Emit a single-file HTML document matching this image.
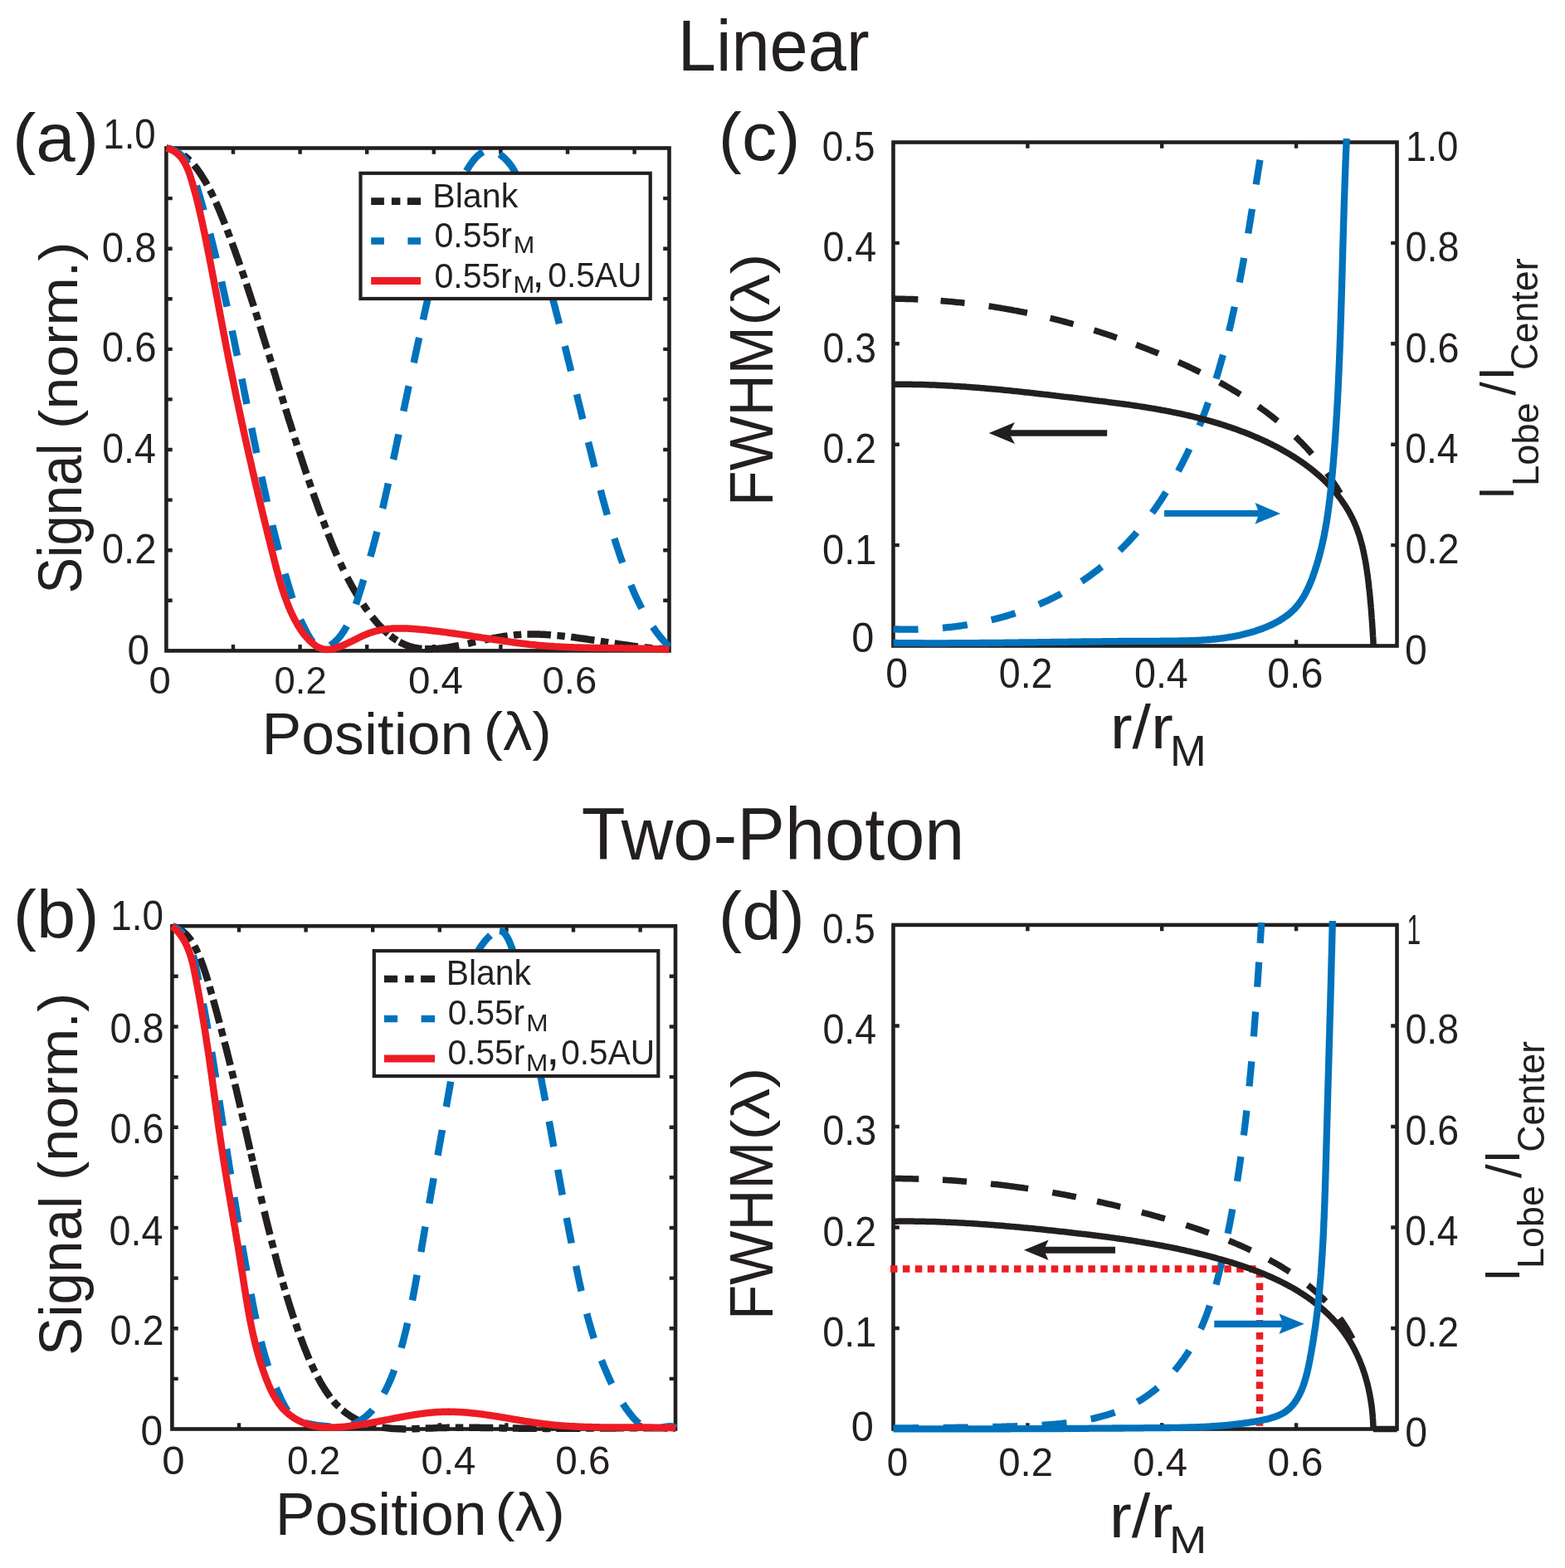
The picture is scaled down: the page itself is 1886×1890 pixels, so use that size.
<!DOCTYPE html>
<html><head><meta charset="utf-8"><title>Figure</title>
<style>html,body{margin:0;padding:0;background:#fff}svg{display:block}text{font-family:"Liberation Sans", "DejaVu Sans", sans-serif}</style></head>
<body><svg width="1886" height="1890" viewBox="0 0 1886 1890">
<rect width="1886" height="1890" fill="#fff"/>
<defs><clipPath id="ca"><rect x="195.4" y="173.5" width="616.1" height="615.9"/></clipPath><clipPath id="cb"><rect x="202.4" y="1111.2" width="616.6" height="616.3"/></clipPath><clipPath id="cc"><rect x="1071.5" y="166.5" width="617.0" height="617.0"/></clipPath><clipPath id="cd"><rect x="1071.5" y="1109.9" width="617.0" height="617.6"/></clipPath></defs>
<rect x="200.4" y="178.5" width="606.1" height="605.9" fill="none" stroke="#231F20" stroke-width="4.6"/>
<path d="M281.0,784.4V777.1M281.0,178.5V185.8M361.6,784.4V777.1M361.6,178.5V185.8M442.2,784.4V777.1M442.2,178.5V185.8M522.8,784.4V777.1M522.8,178.5V185.8M603.4,784.4V777.1M603.4,178.5V185.8M684.0,784.4V777.1M684.0,178.5V185.8M764.6,784.4V777.1M764.6,178.5V185.8M200.4,723.8H207.7M806.5,723.8H799.2M200.4,663.2H207.7M806.5,663.2H799.2M200.4,602.6H207.7M806.5,602.6H799.2M200.4,542.0H207.7M806.5,542.0H799.2M200.4,481.4H207.7M806.5,481.4H799.2M200.4,420.9H207.7M806.5,420.9H799.2M200.4,360.3H207.7M806.5,360.3H799.2M200.4,299.7H207.7M806.5,299.7H799.2M200.4,239.1H207.7M806.5,239.1H799.2" stroke="#231F20" stroke-width="4.4" fill="none"/>
<rect x="207.4" y="1116.2" width="606.6" height="606.3" fill="none" stroke="#231F20" stroke-width="4.6"/>
<path d="M288.0,1722.5V1715.2M288.0,1116.2V1123.5M368.6,1722.5V1715.2M368.6,1116.2V1123.5M449.2,1722.5V1715.2M449.2,1116.2V1123.5M529.8,1722.5V1715.2M529.8,1116.2V1123.5M610.4,1722.5V1715.2M610.4,1116.2V1123.5M691.0,1722.5V1715.2M691.0,1116.2V1123.5M771.6,1722.5V1715.2M771.6,1116.2V1123.5M207.4,1661.9H214.7M814.0,1661.9H806.7M207.4,1601.2H214.7M814.0,1601.2H806.7M207.4,1540.6H214.7M814.0,1540.6H806.7M207.4,1480.0H214.7M814.0,1480.0H806.7M207.4,1419.3H214.7M814.0,1419.3H806.7M207.4,1358.7H214.7M814.0,1358.7H806.7M207.4,1298.1H214.7M814.0,1298.1H806.7M207.4,1237.5H214.7M814.0,1237.5H806.7M207.4,1176.8H214.7M814.0,1176.8H806.7" stroke="#231F20" stroke-width="4.4" fill="none"/>
<rect x="1076.5" y="171.5" width="607.0" height="607.0" fill="none" stroke="#231F20" stroke-width="4.6"/>
<path d="M1238.4,778.5V771.2M1238.4,171.5V178.8M1400.2,778.5V771.2M1400.2,171.5V178.8M1562.1,778.5V771.2M1562.1,171.5V178.8M1076.5,657.1H1083.8M1683.5,657.1H1676.2M1076.5,535.7H1083.8M1683.5,535.7H1676.2M1076.5,414.3H1083.8M1683.5,414.3H1676.2M1076.5,292.9H1083.8M1683.5,292.9H1676.2" stroke="#231F20" stroke-width="4.4" fill="none"/>
<rect x="1076.5" y="1114.9" width="607.0" height="607.6" fill="none" stroke="#231F20" stroke-width="4.6"/>
<path d="M1238.4,1722.5V1715.2M1238.4,1114.9V1122.2M1400.2,1722.5V1715.2M1400.2,1114.9V1122.2M1562.1,1722.5V1715.2M1562.1,1114.9V1122.2M1076.5,1601.0H1083.8M1683.5,1601.0H1676.2M1076.5,1479.5H1083.8M1683.5,1479.5H1676.2M1076.5,1358.0H1083.8M1683.5,1358.0H1676.2M1076.5,1236.5H1083.8M1683.5,1236.5H1676.2" stroke="#231F20" stroke-width="4.4" fill="none"/>
<g clip-path="url(#ca)">
<path d="M200.4,178.5 L202.5,178.9 L204.6,179.4 L206.7,180.0 L208.8,180.7 L210.8,181.5 L212.8,182.3 L214.8,183.3M233.9,199.1 L235.2,200.7 L236.4,202.3 L237.7,203.9 L238.9,205.6 L240.0,207.2 L241.2,208.9 L242.3,210.6 L243.4,212.3 L244.5,214.1 L245.6,215.8 L246.6,217.5 L247.7,219.3 L248.7,221.0 L249.7,222.8M260.1,243.9 L261.0,245.7 L261.8,247.6 L262.6,249.5 L263.4,251.3 L264.2,253.2 L265.0,255.1 L265.7,257.0 L266.5,258.9 L267.3,260.8 L268.0,262.6 L268.8,264.5 L269.5,266.4 L270.3,268.3 L271.0,270.2M279.6,292.7 L280.3,294.6 L281.0,296.6 L281.7,298.5 L282.4,300.4 L283.1,302.3 L283.7,304.2 L284.4,306.1 L285.1,308.0 L285.8,310.0 L286.5,311.9 L287.2,313.8 L287.8,315.7 L288.5,317.6 L289.2,319.6M296.9,342.2 L297.6,344.2 L298.2,346.1 L298.9,348.0 L299.5,350.0 L300.1,351.9 L300.8,353.8 L301.4,355.8 L302.0,357.7 L302.7,359.6 L303.3,361.6 L303.9,363.5 L304.5,365.4 L305.2,367.4 L305.8,369.3M313.3,393.0 L313.9,394.9 L314.5,396.8 L315.1,398.8 L315.7,400.7 L316.3,402.7 L316.9,404.6 L317.5,406.6 L318.1,408.5 L318.7,410.5 L319.3,412.4 L319.9,414.3 L320.5,416.3 L321.1,418.2 L321.8,420.2M329.0,443.6 L329.6,445.6 L330.2,447.5 L330.8,449.4 L331.4,451.4 L332.0,453.3 L332.5,455.3 L333.1,457.2 L333.7,459.2 L334.3,461.1 L334.9,463.1 L335.5,465.0 L336.1,467.0 L336.7,468.9 L337.3,470.8M344.2,493.0 L344.8,494.9 L345.4,496.9 L346.0,498.8 L346.6,500.8 L347.2,502.7 L347.8,504.7 L348.4,506.6 L349.1,508.5 L349.7,510.5 L350.3,512.4 L350.9,514.4 L351.5,516.3 L352.1,518.2 L352.7,520.2M360.4,544.2 L361.1,546.1 L361.7,548.0 L362.3,550.0 L363.0,551.9 L363.6,553.8 L364.2,555.8 L364.9,557.7 L365.5,559.6 L366.2,561.6 L366.8,563.5 L367.4,565.4 L368.1,567.4 L368.7,569.3 L369.4,571.2M377.4,594.5 L378.1,596.4 L378.7,598.3 L379.4,600.3 L380.1,602.2 L380.8,604.1 L381.5,606.0 L382.1,607.9 L382.8,609.8 L383.5,611.8 L384.2,613.7 L384.9,615.6 L385.6,617.5 L386.3,619.4 L387.0,621.3M395.3,643.3 L396.0,645.2 L396.8,647.0 L397.5,648.9 L398.3,650.8 L399.0,652.7 L399.8,654.6 L400.5,656.5 L401.3,658.4 L402.1,660.3 L402.9,662.1 L403.7,664.0 L404.5,665.9 L405.3,667.8 L406.1,669.6M418.5,696.1 L419.5,697.9 L420.4,699.7 L421.4,701.5 L422.4,703.3 L423.3,705.1 L424.3,706.8 L425.3,708.6 L426.3,710.4 L427.4,712.1 L428.4,713.9 L429.4,715.6 L430.5,717.4 L431.5,719.1 L432.6,720.8M448.4,743.5 L449.7,745.1 L451.0,746.6 L452.3,748.2 L453.6,749.8 L454.9,751.3 L456.3,752.8 L457.7,754.3 L459.0,755.8 L460.5,757.3 L461.9,758.7 L463.4,760.1 L464.9,761.5 L466.4,762.9 L467.9,764.2M481.4,773.7 L483.2,774.7 L485.0,775.6 L486.8,776.5 L488.7,777.3 L490.6,778.0 L492.5,778.7 L494.5,779.3 L496.4,779.9 L498.4,780.4 L500.4,780.8 L502.4,781.1 L504.4,781.5 L506.4,781.7 L508.4,781.9M525.0,782.0 L527.0,781.9 L529.0,781.7 L531.0,781.5 L533.1,781.3 L535.1,781.0 L537.1,780.7 L539.1,780.5 L541.1,780.1 L543.1,779.8 L545.1,779.5 L547.1,779.1 L549.1,778.7 L551.1,778.4 L553.1,778.0M583.8,771.4 L585.7,771.0 L587.7,770.6 L589.7,770.2 L591.7,769.8 L593.7,769.4 L595.7,769.0 L597.7,768.7 L599.7,768.3 L601.7,768.0 L603.7,767.6 L605.8,767.3 L607.8,767.0 L609.8,766.7 L611.8,766.4M635.4,764.5 L637.5,764.5 L639.5,764.5 L641.6,764.4 L643.6,764.5 L645.6,764.5 L647.7,764.5 L649.7,764.6 L651.7,764.7 L653.8,764.7 L655.8,764.8 L657.8,764.9 L659.9,765.1 L661.9,765.2 L663.9,765.4M688.2,767.8 L690.2,768.1 L692.3,768.3 L694.3,768.6 L696.3,768.9 L698.3,769.2 L700.3,769.4 L702.4,769.7 L704.4,770.0 L706.4,770.3 L708.4,770.6 L710.4,770.9 L712.4,771.2 L714.4,771.5 L716.4,771.8M740.6,775.5 L742.6,775.8 L744.6,776.1 L746.6,776.4 L748.6,776.7 L750.6,777.0 L752.7,777.3 L754.7,777.6 L756.7,777.8 L758.7,778.1 L760.7,778.4 L762.7,778.7 L764.8,778.9 L766.8,779.2 L768.8,779.4M793.7,781.8 L795.8,782.0 L798.0,782.1 L800.1,782.2 L802.2,782.3 L804.4,782.4 L806.5,782.5M221.4,187.3 L223.3,188.7 L225.1,190.2 L226.9,191.8 L228.6,193.4M253.0,229.0 L254.1,231.1 L255.1,233.2 L256.2,235.4 L257.2,237.5M273.7,277.0 L274.5,279.2 L275.3,281.5 L276.2,283.7 L277.0,285.9M291.6,326.4 L292.3,328.6 L293.1,330.9 L293.9,333.1 L294.6,335.4M308.1,376.6 L308.8,378.9 L309.6,381.1 L310.3,383.4 L311.0,385.7M324.0,427.3 L324.7,429.6 L325.4,431.9 L326.1,434.2 L326.8,436.4M339.4,477.4 L340.1,479.7 L340.8,481.9 L341.5,484.2 L342.2,486.5M355.1,527.7 L355.8,529.9 L356.6,532.2 L357.3,534.5 L358.0,536.7M371.8,578.4 L372.6,580.6 L373.4,582.9 L374.1,585.1 L374.9,587.4M389.4,627.9 L390.3,630.1 L391.1,632.3 L391.9,634.5 L392.8,636.7M410.1,678.6 L411.1,680.8 L412.1,683.0 L413.1,685.1 L414.1,687.2M437.6,728.4 L438.9,730.4 L440.2,732.4 L441.6,734.3 L443.0,736.2M470.6,766.4 L472.5,767.9 L474.4,769.3 L476.4,770.6 L478.4,771.9M511.9,782.2 L514.3,782.3 L516.7,782.3 L519.1,782.3 L521.4,782.2M563.8,775.8 L566.1,775.3 L568.5,774.7 L570.8,774.2 L573.1,773.7M618.9,765.6 L621.2,765.3 L623.6,765.1 L626.0,765.0 L628.3,764.8M671.4,766.0 L673.7,766.2 L676.1,766.4 L678.5,766.7 L680.8,767.0M723.8,772.9 L726.2,773.3 L728.5,773.7 L730.9,774.0 L733.2,774.4M776.5,780.3 L778.9,780.6 L781.2,780.8 L783.6,781.0 L786.0,781.2" fill="none" stroke="#231F20" stroke-width="8.5" stroke-linejoin="round"/>
<path d="M202.7,179.0 L204.7,179.5 L206.7,180.1 L208.6,180.8 L210.5,181.7 L212.3,182.6 L214.1,183.7 L215.8,184.9 L217.4,186.2 L219.0,187.5 L220.4,189.0 L221.8,190.5 L223.1,192.1 L224.3,193.8 L225.5,195.5 L226.5,197.3M236.9,223.8 L237.5,225.7 L238.1,227.7 L238.7,229.7 L239.2,231.7 L239.8,233.7 L240.4,235.7 L241.0,237.6 L241.6,239.6 L242.1,241.6 L242.7,243.6 L243.3,245.6 L243.8,247.6 L244.4,249.6 L245.0,251.5 L245.5,253.5M253.1,281.6 L253.6,283.6 L254.1,285.6 L254.6,287.6 L255.1,289.6 L255.6,291.6 L256.1,293.6 L256.6,295.6 L257.1,297.6 L257.6,299.6 L258.1,301.6 L258.6,303.6 L259.1,305.6 L259.6,307.7 L260.1,309.7 L260.5,311.7M267.0,339.4 L267.4,341.4 L267.9,343.4 L268.3,345.4 L268.8,347.5 L269.2,349.5 L269.7,351.5 L270.1,353.5 L270.6,355.5 L271.0,357.6 L271.4,359.6 L271.9,361.6 L272.3,363.6 L272.7,365.6 L273.2,367.7 L273.6,369.7M279.7,398.5 L280.1,400.5 L280.5,402.5 L280.9,404.5 L281.3,406.5 L281.8,408.6 L282.2,410.6 L282.6,412.6 L283.0,414.6 L283.4,416.7 L283.8,418.7 L284.2,420.7 L284.6,422.8 L285.0,424.8 L285.5,426.8 L285.9,428.8M291.4,456.6 L291.8,458.6 L292.2,460.6 L292.6,462.7 L293.0,464.7 L293.4,466.7 L293.8,468.8 L294.2,470.8 L294.6,472.8 L295.0,474.8 L295.4,476.9 L295.8,478.9 L296.2,480.9 L296.6,482.9 L297.0,485.0 L297.4,487.0M303.2,515.8 L303.6,517.8 L304.0,519.8 L304.4,521.8 L304.8,523.9 L305.2,525.9 L305.6,527.9 L306.0,529.9 L306.4,532.0 L306.9,534.0 L307.3,536.0 L307.7,538.0 L308.1,540.1 L308.5,542.1 L308.9,544.1 L309.3,546.1M315.3,574.7 L315.7,576.7 L316.2,578.7 L316.6,580.8 L317.0,582.8 L317.5,584.8 L317.9,586.8 L318.3,588.9 L318.8,590.9 L319.2,592.9 L319.7,594.9 L320.1,596.9 L320.6,598.9 L321.0,601.0 L321.5,603.0 L321.9,605.0M328.4,633.0 L328.8,635.0 L329.3,637.0 L329.8,639.0 L330.3,641.0 L330.8,643.0 L331.3,645.0 L331.8,647.0 L332.3,649.0 L332.8,651.0 L333.3,653.0 L333.8,655.0 L334.3,657.0 L334.8,659.0 L335.3,661.1 L335.8,663.1M343.5,691.6 L344.1,693.6 L344.7,695.6 L345.2,697.6 L345.8,699.5 L346.4,701.5 L347.0,703.5 L347.6,705.5 L348.2,707.5 L348.8,709.5 L349.4,711.4 L350.0,713.4 L350.6,715.4 L351.2,717.4 L351.8,719.3 L352.5,721.3M362.2,747.0 L363.0,748.9 L363.9,750.8 L364.8,752.7 L365.7,754.5 L366.6,756.4 L367.5,758.2 L368.5,760.1 L369.4,761.9 L370.4,763.7 L371.4,765.5 L372.5,767.3 L373.6,769.1 L374.7,770.8 L375.9,772.5 L377.1,774.1M398.1,778.0 L399.8,776.8 L401.4,775.5 L403.0,774.2 L404.5,772.8 L406.0,771.3 L407.4,769.8 L408.8,768.3 L410.1,766.7 L411.3,765.0 L412.5,763.4 L413.7,761.6 L414.8,759.9 L415.9,758.1 L416.9,756.4 L417.9,754.5M428.9,728.4 L429.6,726.4 L430.2,724.4 L430.9,722.5 L431.5,720.5 L432.1,718.5 L432.7,716.6 L433.4,714.6 L434.0,712.6 L434.6,710.7 L435.2,708.7 L435.8,706.7 L436.4,704.7 L437.0,702.8 L437.6,700.8 L438.2,698.8M446.4,670.9 L446.9,668.9 L447.5,666.9 L448.1,664.9 L448.6,662.9 L449.1,660.9 L449.7,658.9 L450.2,656.9 L450.7,654.9 L451.3,652.9 L451.8,650.9 L452.3,648.9 L452.8,646.9 L453.3,644.9 L453.9,642.9 L454.4,640.9M461.1,612.9 L461.6,610.9 L462.1,608.8 L462.5,606.8 L463.0,604.8 L463.4,602.8 L463.9,600.8 L464.3,598.8 L464.8,596.8 L465.2,594.7 L465.7,592.7 L466.1,590.7 L466.6,588.7 L467.0,586.7 L467.5,584.6 L467.9,582.6M474.0,553.9 L474.5,551.9 L474.9,549.8 L475.3,547.8 L475.8,545.8 L476.2,543.8 L476.6,541.7 L477.0,539.7 L477.4,537.7 L477.9,535.7 L478.3,533.7 L478.7,531.6 L479.1,529.6 L479.6,527.6 L480.0,525.6 L480.4,523.5M486.3,495.6 L486.7,493.5 L487.1,491.5 L487.6,489.5 L488.0,487.5 L488.4,485.4 L488.8,483.4 L489.3,481.4 L489.7,479.4 L490.1,477.4 L490.5,475.3 L491.0,473.3 L491.4,471.3 L491.8,469.3 L492.2,467.2 L492.7,465.2M498.6,437.3 L499.1,435.2 L499.5,433.2 L499.9,431.2 L500.4,429.2 L500.8,427.1 L501.2,425.1 L501.7,423.1 L502.1,421.1 L502.5,419.1 L503.0,417.0 L503.4,415.0 L503.8,413.0 L504.3,411.0 L504.7,409.0 L505.2,406.9M509.9,385.4 L510.3,383.4 L510.8,381.4 L511.2,379.3 L511.7,377.3 L512.1,375.3 L512.6,373.3 L513.0,371.3 L513.5,369.3 L513.9,367.2 L514.4,365.2 L514.8,363.2 L515.3,361.2 L515.8,359.2 L516.2,357.2 L516.7,355.1M523.7,324.5 L524.2,322.5 L524.7,320.5 L525.2,318.4 L525.6,316.4 L526.1,314.4 L526.6,312.4 L527.1,310.4 L527.5,308.4 L528.0,306.4 L528.5,304.4 L529.0,302.4 L529.5,300.4 L529.9,298.3 L530.4,296.3 L530.9,294.3M538.7,263.8 L539.3,261.9 L539.8,259.9 L540.4,257.9 L541.0,255.9 L541.6,253.9 L542.2,252.0 L542.8,250.0 L543.5,248.0 L544.1,246.1 L544.8,244.1 L545.5,242.1 L546.2,240.2 L546.9,238.3 L547.6,236.3 L548.4,234.4M562.0,206.1 L563.1,204.3 L564.2,202.6 L565.3,200.8 L566.4,199.1 L567.6,197.4 L568.8,195.7 L570.0,194.1 L571.3,192.4 L572.7,190.9 L574.1,189.3 L575.5,187.9 L577.1,186.5 L578.7,185.2 L580.4,184.1 L582.2,183.1M602.1,185.9 L603.8,187.1 L605.4,188.4 L607.0,189.7 L608.5,191.1 L609.9,192.6 L611.3,194.1 L612.7,195.7 L614.0,197.3 L615.3,198.9 L616.5,200.6 L617.6,202.3 L618.7,204.1 L619.8,205.8 L620.7,207.7 L621.7,209.5M631.3,239.7 L631.9,241.7 L632.5,243.7 L633.1,245.7 L633.7,247.7 L634.3,249.6 L634.9,251.6 L635.5,253.6 L636.1,255.6 L636.7,257.6 L637.3,259.5 L637.9,261.5 L638.5,263.5 L639.1,265.5 L639.7,267.4 L640.3,269.4M649.4,299.9 L649.9,301.8 L650.5,303.8 L651.1,305.8 L651.7,307.8 L652.2,309.8 L652.8,311.8 L653.4,313.8 L653.9,315.7 L654.5,317.7 L655.0,319.7 L655.6,321.7 L656.2,323.7 L656.7,325.7 L657.3,327.7 L657.8,329.7M666.1,360.3 L666.7,362.3 L667.2,364.3 L667.7,366.3 L668.2,368.3 L668.8,370.3 L669.3,372.3 L669.8,374.3 L670.3,376.3 L670.8,378.3 L671.4,380.3 L671.9,382.3 L672.4,384.3 L672.9,386.3 L673.4,388.3 L673.9,390.3M680.7,417.1 L681.2,419.1 L681.7,421.1 L682.2,423.1 L682.7,425.1 L683.2,427.1 L683.7,429.1 L684.2,431.1 L684.7,433.2 L685.2,435.2 L685.7,437.2 L686.2,439.2 L686.7,441.2 L687.2,443.2 L687.6,445.2 L688.1,447.2M695.0,475.2 L695.5,477.2 L696.0,479.2 L696.4,481.2 L696.9,483.2 L697.4,485.3 L697.9,487.3 L698.4,489.3 L698.9,491.3 L699.4,493.3 L699.9,495.3 L700.3,497.3 L700.8,499.3 L701.3,501.3 L701.8,503.3 L702.3,505.3M709.0,532.9 L709.5,534.9 L710.0,536.9 L710.5,538.9 L711.0,540.9 L711.5,542.9 L712.0,544.9 L712.5,546.9 L713.0,548.9 L713.5,550.9 L714.0,552.9 L714.5,554.9 L715.0,557.0 L715.5,559.0 L716.0,561.0 L716.5,563.0M723.7,590.7 L724.2,592.7 L724.7,594.7 L725.3,596.7 L725.8,598.7 L726.3,600.7 L726.9,602.7 L727.4,604.7 L728.0,606.7 L728.5,608.7 L729.1,610.6 L729.6,612.6 L730.2,614.6 L730.7,616.6 L731.3,618.6 L731.9,620.6M740.4,649.0 L741.0,650.9 L741.6,652.9 L742.2,654.9 L742.9,656.8 L743.5,658.8 L744.2,660.8 L744.8,662.7 L745.5,664.7 L746.1,666.7 L746.8,668.6 L747.4,670.6 L748.1,672.5 L748.8,674.5 L749.5,676.4 L750.2,678.4M760.3,705.2 L761.1,707.1 L761.9,709.0 L762.7,710.9 L763.5,712.8 L764.3,714.7 L765.2,716.6 L766.0,718.5 L766.9,720.3 L767.8,722.2 L768.7,724.1 L769.6,725.9 L770.5,727.8 L771.4,729.6 L772.4,731.5 L773.3,733.3M786.7,755.6 L787.9,757.3 L789.1,759.0 L790.3,760.7 L791.5,762.4 L792.8,764.0 L794.1,765.6 L795.3,767.3 L796.7,768.9 L798.0,770.4 L799.3,772.0 L800.7,773.6 L802.1,775.1 L803.5,776.6 L804.9,778.1 L806.3,779.6" fill="none" stroke="#0072BC" stroke-width="8.5" stroke-linejoin="round"/>
<path d="M200.4,178.5 L202.5,179.1 L204.5,179.8 L206.4,180.6 L208.2,181.4 L209.9,182.4 L211.5,183.5 L213.0,184.6 L214.5,185.9 L215.8,187.2 L217.1,188.5 L218.4,190.0 L219.5,191.5 L220.6,193.1 L221.7,194.7 L222.6,196.4 L223.6,198.1 L224.4,199.9 L225.3,201.7 L226.1,203.5 L226.8,205.4 L227.6,207.3 L228.2,209.2 L228.9,211.2 L229.5,213.1 L230.2,215.1 L230.8,217.1 L231.4,219.1 L231.9,221.0 L232.5,223.0 L233.1,225.0 L233.6,226.9 L234.2,228.9 L234.7,230.9 L235.2,232.8 L235.8,234.8 L236.3,236.8 L236.8,238.7 L237.3,240.7 L237.8,242.6 L238.3,244.6 L238.7,246.6 L239.2,248.5 L239.7,250.5 L240.1,252.4 L240.6,254.4 L241.1,256.3 L241.5,258.3 L241.9,260.2 L242.4,262.2 L242.8,264.2 L243.2,266.1 L243.7,268.1 L244.1,270.0 L244.5,272.0 L244.9,273.9 L245.3,275.9 L245.7,277.8 L246.2,279.8 L246.6,281.7 L247.0,283.7 L247.4,285.6 L247.8,287.6 L248.2,289.6 L248.6,291.5 L249.0,293.5 L249.3,295.4 L249.7,297.4 L250.1,299.3 L250.5,301.3 L250.9,303.3 L251.3,305.2 L251.7,307.2 L252.1,309.2 L252.5,311.1 L252.8,313.1 L253.2,315.0 L253.6,317.0 L254.0,319.0 L254.4,320.9 L254.7,322.9 L255.1,324.9 L255.5,326.8 L255.9,328.8 L256.2,330.8 L256.6,332.7 L257.0,334.7 L257.4,336.7 L257.7,338.7 L258.1,340.6 L258.5,342.6 L258.9,344.6 L259.2,346.5 L259.6,348.5 L260.0,350.5 L260.3,352.4 L260.7,354.4 L261.1,356.4 L261.5,358.4 L261.8,360.3 L262.2,362.3 L262.6,364.3 L262.9,366.2 L263.3,368.2 L263.7,370.2 L264.0,372.2 L264.4,374.1 L264.8,376.1 L265.1,378.1 L265.5,380.1 L265.9,382.0 L266.3,384.0 L266.6,386.0 L267.0,387.9 L267.4,389.9 L267.7,391.9 L268.1,393.9 L268.5,395.8 L268.9,397.8 L269.2,399.8 L269.6,401.8 L270.0,403.7 L270.4,405.7 L270.7,407.7 L271.1,409.7 L271.5,411.6 L271.9,413.6 L272.3,415.6 L272.6,417.5 L273.0,419.5 L273.4,421.5 L273.8,423.5 L274.2,425.4 L274.6,427.4 L274.9,429.4 L275.3,431.3 L275.7,433.3 L276.1,435.3 L276.5,437.3 L276.9,439.2 L277.3,441.2 L277.7,443.2 L278.1,445.1 L278.5,447.1 L278.9,449.1 L279.3,451.0 L279.7,453.0 L280.1,455.0 L280.5,456.9 L280.9,458.9 L281.3,460.9 L281.7,462.9 L282.1,464.8 L282.5,466.8 L282.9,468.8 L283.3,470.7 L283.7,472.7 L284.1,474.7 L284.5,476.6 L284.9,478.6 L285.3,480.6 L285.7,482.5 L286.2,484.5 L286.6,486.5 L287.0,488.4 L287.4,490.4 L287.8,492.3 L288.2,494.3 L288.7,496.3 L289.1,498.2 L289.5,500.2 L289.9,502.2 L290.3,504.1 L290.8,506.1 L291.2,508.1 L291.6,510.0 L292.0,512.0 L292.5,513.9 L292.9,515.9 L293.3,517.9 L293.7,519.8 L294.2,521.8 L294.6,523.7 L295.0,525.7 L295.5,527.7 L295.9,529.6 L296.3,531.6 L296.8,533.5 L297.2,535.5 L297.6,537.5 L298.1,539.4 L298.5,541.4 L299.0,543.3 L299.4,545.3 L299.8,547.3 L300.3,549.2 L300.7,551.2 L301.2,553.1 L301.6,555.1 L302.1,557.0 L302.5,559.0 L303.0,561.0 L303.4,562.9 L303.8,564.9 L304.3,566.8 L304.7,568.8 L305.2,570.7 L305.6,572.7 L306.1,574.6 L306.6,576.6 L307.0,578.5 L307.5,580.5 L307.9,582.4 L308.4,584.4 L308.8,586.4 L309.3,588.3 L309.8,590.3 L310.2,592.2 L310.7,594.2 L311.1,596.1 L311.6,598.1 L312.1,600.0 L312.5,602.0 L313.0,603.9 L313.5,605.9 L313.9,607.8 L314.4,609.8 L314.9,611.7 L315.3,613.7 L315.8,615.6 L316.3,617.5 L316.7,619.5 L317.2,621.4 L317.7,623.4 L318.2,625.3 L318.6,627.3 L319.1,629.2 L319.6,631.2 L320.1,633.1 L320.5,635.1 L321.0,637.0 L321.5,638.9 L322.0,640.9 L322.4,642.8 L322.9,644.8 L323.4,646.7 L323.9,648.7 L324.4,650.6 L324.9,652.5 L325.3,654.5 L325.8,656.4 L326.3,658.4 L326.8,660.3 L327.3,662.2 L327.8,664.2 L328.3,666.1 L328.8,668.1 L329.3,670.0 L329.7,671.9 L330.2,673.9 L330.7,675.8 L331.2,677.8 L331.7,679.7 L332.2,681.6 L332.7,683.6 L333.2,685.5 L333.7,687.4 L334.3,689.4 L334.8,691.3 L335.3,693.2 L335.8,695.2 L336.4,697.1 L336.9,699.0 L337.5,700.9 L338.1,702.9 L338.6,704.8 L339.2,706.7 L339.8,708.6 L340.4,710.5 L341.1,712.5 L341.7,714.4 L342.3,716.3 L343.0,718.2 L343.7,720.1 L344.4,722.0 L345.1,723.9 L345.8,725.8 L346.5,727.7 L347.3,729.6 L348.0,731.5 L348.8,733.4 L349.6,735.3 L350.5,737.1 L351.3,739.0 L352.2,740.9 L353.1,742.7 L354.0,744.6 L354.9,746.4 L355.9,748.2 L356.9,750.0 L357.9,751.8 L358.9,753.6 L360.0,755.3 L361.1,757.1 L362.2,758.8 L363.3,760.4 L364.5,762.1 L365.7,763.7 L367.0,765.3 L368.2,766.8 L369.5,768.3 L370.9,769.8 L372.2,771.3 L373.7,772.7 L375.1,774.0 L376.6,775.3 L378.1,776.6 L379.6,777.7 L381.2,778.8 L382.8,779.8 L384.5,780.6 L386.1,781.3 L387.9,781.9 L389.6,782.4 L391.4,782.7 L393.2,782.8 L395.0,782.9 L396.8,782.7 L398.7,782.5 L400.6,782.2 L402.5,781.7 L404.4,781.2 L406.3,780.6 L408.2,780.0 L410.1,779.2 L412.0,778.5 L413.9,777.7 L415.8,776.8 L417.7,775.9 L419.6,775.1 L421.5,774.1 L423.3,773.2 L425.2,772.3 L427.1,771.3 L429.0,770.4 L430.9,769.4 L432.7,768.5 L434.6,767.6 L436.5,766.7 L438.4,765.9 L440.3,765.0 L442.2,764.3 L444.1,763.5 L446.0,762.8 L447.9,762.2 L449.8,761.6 L451.8,761.0 L453.7,760.5 L455.6,760.1 L457.6,759.6 L459.5,759.3 L461.5,758.9 L463.4,758.6 L465.4,758.4 L467.3,758.1 L469.3,757.9 L471.3,757.8 L473.2,757.6 L475.2,757.5 L477.2,757.5 L479.2,757.4 L481.1,757.4 L483.1,757.4 L485.1,757.4 L487.1,757.4 L489.1,757.5 L491.1,757.6 L493.1,757.7 L495.1,757.8 L497.0,757.9 L499.0,758.1 L501.0,758.2 L503.0,758.4 L505.0,758.6 L507.0,758.7 L509.0,758.9 L511.0,759.1 L513.0,759.3 L515.0,759.5 L516.9,759.7 L518.9,759.9 L520.9,760.2 L522.9,760.4 L524.9,760.6 L526.9,760.9 L528.9,761.1 L530.9,761.4 L532.8,761.6 L534.8,761.9 L536.8,762.1 L538.8,762.4 L540.8,762.7 L542.8,762.9 L544.7,763.2 L546.7,763.5 L548.7,763.8 L550.7,764.1 L552.7,764.4 L554.7,764.6 L556.6,764.9 L558.6,765.2 L560.6,765.5 L562.6,765.8 L564.6,766.1 L566.6,766.4 L568.5,766.7 L570.5,767.1 L572.5,767.4 L574.5,767.7 L576.5,768.0 L578.5,768.3 L580.4,768.6 L582.4,768.9 L584.4,769.2 L586.4,769.5 L588.4,769.8 L590.4,770.1 L592.3,770.4 L594.3,770.7 L596.3,771.0 L598.3,771.3 L600.3,771.6 L602.3,771.9 L604.3,772.2 L606.2,772.5 L608.2,772.8 L610.2,773.1 L612.2,773.4 L614.2,773.6 L616.2,773.9 L618.2,774.2 L620.1,774.4 L622.1,774.7 L624.1,775.0 L626.1,775.2 L628.1,775.5 L630.1,775.7 L632.1,776.0 L634.1,776.2 L636.1,776.4 L638.1,776.7 L640.1,776.9 L642.0,777.1 L644.0,777.3 L646.0,777.5 L648.0,777.7 L650.0,777.9 L652.0,778.1 L654.0,778.2 L656.0,778.4 L658.0,778.6 L660.0,778.7 L662.0,778.9 L664.0,779.0 L666.0,779.1 L668.0,779.3 L670.0,779.4 L672.0,779.5 L674.0,779.6 L676.0,779.7 L678.0,779.8 L680.1,779.9 L682.1,780.0 L684.1,780.1 L686.1,780.2 L688.1,780.2 L690.1,780.3 L692.1,780.4 L694.1,780.5 L696.1,780.5 L698.1,780.6 L700.1,780.6 L702.1,780.7 L704.1,780.7 L706.2,780.8 L708.2,780.8 L710.2,780.8 L712.2,780.9 L714.2,780.9 L716.2,780.9 L718.2,781.0 L720.2,781.0 L722.2,781.0 L724.2,781.1 L726.3,781.1 L728.3,781.1 L730.3,781.1 L732.3,781.1 L734.3,781.2 L736.3,781.2 L738.3,781.2 L740.3,781.2 L742.3,781.3 L744.4,781.3 L746.4,781.3 L748.4,781.3 L750.4,781.3 L752.4,781.4 L754.4,781.4 L756.4,781.4 L758.4,781.4 L760.4,781.5 L762.4,781.5 L764.4,781.5 L766.5,781.6 L768.5,781.6 L770.5,781.7 L772.5,781.7 L774.5,781.7 L776.5,781.8 L778.5,781.8 L780.5,781.9 L782.5,782.0 L784.5,782.0 L786.5,782.1 L788.5,782.2 L790.5,782.2 L792.5,782.3 L794.5,782.4 L796.5,782.5 L798.5,782.6 L800.5,782.7 L802.5,782.8 L804.5,782.9 L806.5,783.0" fill="none" stroke="#ED1C24" stroke-width="8.5" stroke-linejoin="round"/>
</g>
<rect x="434.5" y="208.8" width="349.2" height="151.2" fill="#fff" stroke="#231F20" stroke-width="4.2"/>
<path d="M447.2,242.7H507.0" stroke="#231F20" stroke-width="8.7" stroke-dasharray="31 9 10.5 8.5" stroke-dashoffset="15.3"/>
<path d="M447.2,290.5H507.0" stroke="#0072BC" stroke-width="8.5" stroke-dasharray="31 28.5" stroke-dashoffset="15.3"/>
<path d="M447.2,338.6H507.0" stroke="#ED1C24" stroke-width="9"/>
<g clip-path="url(#cb)">
<path d="M208.4,1116.5 L210.3,1117.2 L212.3,1118.0 L214.1,1118.9 L215.9,1119.8 L217.7,1120.9 L219.4,1122.1 L221.0,1123.4 L222.6,1124.7 L224.1,1126.1 L225.6,1127.6 L226.9,1129.2 L228.2,1130.8 L229.5,1132.4 L230.7,1134.1M241.2,1155.1 L241.9,1157.1 L242.6,1159.0 L243.4,1160.9 L244.1,1162.9 L244.8,1164.8 L245.5,1166.8 L246.1,1168.7 L246.8,1170.7 L247.5,1172.7 L248.1,1174.6 L248.7,1176.6 L249.4,1178.6 L250.0,1180.6 L250.6,1182.5M257.0,1205.1 L257.6,1207.1 L258.1,1209.1 L258.7,1211.1 L259.2,1213.1 L259.8,1215.0 L260.3,1217.0 L260.8,1219.0 L261.4,1221.0 L261.9,1223.0 L262.5,1225.1 L263.0,1227.1 L263.5,1229.1 L264.1,1231.1 L264.6,1233.1M270.5,1255.9 L271.0,1257.9 L271.6,1259.9 L272.1,1261.9 L272.6,1263.9 L273.1,1265.9 L273.6,1267.9 L274.1,1269.9 L274.6,1272.0 L275.1,1274.0 L275.6,1276.0 L276.1,1278.0 L276.6,1280.0 L277.1,1282.0 L277.6,1284.0M283.1,1306.8 L283.6,1308.8 L284.1,1310.8 L284.6,1312.8 L285.1,1314.8 L285.5,1316.9 L286.0,1318.9 L286.5,1320.9 L287.0,1322.9 L287.4,1324.9 L287.9,1326.9 L288.4,1329.0 L288.8,1331.0 L289.3,1333.0 L289.8,1335.0M294.9,1357.6 L295.4,1359.6 L295.9,1361.6 L296.3,1363.6 L296.8,1365.6 L297.2,1367.7 L297.7,1369.7 L298.2,1371.7 L298.6,1373.7 L299.1,1375.7 L299.5,1377.8 L300.0,1379.8 L300.4,1381.8 L300.9,1383.8 L301.4,1385.8M305.6,1404.4 L306.0,1406.4 L306.5,1408.4 L307.0,1410.5 L307.4,1412.5 L307.9,1414.5 L308.3,1416.5 L308.8,1418.5 L309.3,1420.6 L309.7,1422.6 L310.2,1424.6 L310.7,1426.6 L311.1,1428.6 L311.6,1430.7 L312.0,1432.7M318.5,1460.1 L319.0,1462.1 L319.5,1464.1 L319.9,1466.1 L320.4,1468.2 L320.9,1470.2 L321.4,1472.2 L321.9,1474.2 L322.4,1476.2 L322.9,1478.2 L323.4,1480.2 L323.9,1482.2 L324.4,1484.3 L324.9,1486.3 L325.4,1488.3M331.2,1511.1 L331.8,1513.1 L332.3,1515.1 L332.8,1517.1 L333.4,1519.1 L333.9,1521.1 L334.4,1523.1 L335.0,1525.1 L335.5,1527.1 L336.1,1529.1 L336.6,1531.1 L337.2,1533.1 L337.7,1535.1 L338.3,1537.1 L338.8,1539.1M345.3,1561.3 L345.9,1563.3 L346.5,1565.3 L347.1,1567.3 L347.7,1569.3 L348.3,1571.2 L349.0,1573.2 L349.6,1575.2 L350.2,1577.2 L350.9,1579.1 L351.5,1581.1 L352.1,1583.1 L352.8,1585.1 L353.4,1587.0 L354.1,1589.0M362.0,1611.4 L362.7,1613.3 L363.4,1615.2 L364.2,1617.2 L364.9,1619.1 L365.6,1621.0 L366.4,1623.0 L367.1,1624.9 L367.9,1626.8 L368.7,1628.7 L369.5,1630.7 L370.2,1632.6 L371.0,1634.5 L371.8,1636.4 L372.6,1638.3M382.6,1659.5 L383.6,1661.3 L384.6,1663.1 L385.6,1665.0 L386.6,1666.8 L387.6,1668.5 L388.7,1670.3 L389.8,1672.1 L390.9,1673.9 L392.0,1675.6 L393.1,1677.3 L394.3,1679.0 L395.5,1680.7 L396.7,1682.4 L397.9,1684.1M412.9,1699.9 L414.5,1701.2 L416.1,1702.5 L417.8,1703.7 L419.5,1704.9 L421.2,1706.0 L422.9,1707.2 L424.7,1708.2 L426.5,1709.3 L428.3,1710.2 L430.2,1711.2 L432.0,1712.1 L433.9,1713.0 L435.8,1713.8 L437.8,1714.6M460.4,1720.5 L462.5,1720.8 L464.5,1721.1 L466.6,1721.3 L468.7,1721.5 L470.7,1721.7 L472.8,1721.9 L474.9,1722.0 L476.9,1722.1 L479.0,1722.2 L481.1,1722.3 L483.1,1722.3 L485.2,1722.4 L487.3,1722.4 L489.3,1722.4M512.8,1721.7 L514.9,1721.6 L517.0,1721.6 L519.0,1721.5 L521.1,1721.4 L523.2,1721.3 L525.3,1721.2 L527.3,1721.1 L529.4,1721.1 L531.5,1721.0 L533.5,1721.0 L535.6,1720.9 L537.7,1720.9 L539.7,1720.8 L541.8,1720.8M565.3,1720.7 L567.4,1720.7 L569.5,1720.8 L571.5,1720.8 L573.6,1720.8 L575.7,1720.8 L577.7,1720.8 L579.8,1720.9 L581.9,1720.9 L584.0,1720.9 L586.0,1721.0 L588.1,1721.0 L590.2,1721.1 L592.2,1721.1 L594.3,1721.1M617.8,1721.6 L619.9,1721.6 L622.0,1721.6 L624.0,1721.6 L626.1,1721.7 L628.2,1721.7 L630.2,1721.7 L632.3,1721.7 L634.4,1721.8 L636.5,1721.8 L638.5,1721.8 L640.6,1721.8 L642.7,1721.8 L644.7,1721.8 L646.8,1721.8M670.3,1721.8 L672.4,1721.8 L674.5,1721.8 L676.5,1721.8 L678.6,1721.8 L680.7,1721.8 L682.7,1721.8 L684.8,1721.8 L686.9,1721.8 L689.0,1721.7 L691.0,1721.7 L693.1,1721.7 L695.2,1721.7 L697.2,1721.7 L699.3,1721.7M722.8,1721.5 L724.9,1721.5 L726.9,1721.5 L729.0,1721.4 L731.1,1721.4 L733.2,1721.4 L735.2,1721.4 L737.3,1721.4 L739.4,1721.4 L741.4,1721.4 L743.5,1721.3 L745.6,1721.3 L747.7,1721.3 L749.7,1721.3 L751.8,1721.3M775.3,1721.2 L777.4,1721.2 L779.4,1721.2 L781.5,1721.2 L783.6,1721.2 L785.7,1721.3 L787.7,1721.3 L789.8,1721.3 L791.9,1721.3 L793.9,1721.3 L796.0,1721.3 L798.1,1721.3 L800.2,1721.3 L802.2,1721.4 L804.3,1721.4M234.3,1140.1 L235.4,1142.2 L236.5,1144.4 L237.5,1146.5 L238.5,1148.7M252.6,1189.2 L253.2,1191.5 L253.9,1193.8 L254.5,1196.1 L255.2,1198.4M266.4,1239.9 L267.0,1242.2 L267.6,1244.5 L268.2,1246.8 L268.8,1249.1M279.3,1290.8 L279.8,1293.1 L280.4,1295.4 L281.0,1297.7 L281.5,1300.0M291.3,1341.7 L291.8,1344.0 L292.4,1346.3 L292.9,1348.6 L293.4,1350.9M302.4,1390.5 L302.9,1392.8 L303.5,1395.1 L304.0,1397.4 L304.5,1399.8M314.2,1441.8 L314.7,1444.1 L315.2,1446.4 L315.8,1448.7 L316.3,1451.0M327.1,1495.1 L327.7,1497.4 L328.3,1499.7 L328.9,1502.0 L329.5,1504.3M340.7,1545.7 L341.4,1548.0 L342.0,1550.2 L342.7,1552.5 L343.4,1554.8M356.4,1595.7 L357.2,1598.0 L358.0,1600.2 L358.7,1602.4 L359.5,1604.7M375.4,1644.7 L376.4,1646.8 L377.4,1649.0 L378.4,1651.1 L379.5,1653.3M401.8,1688.9 L403.3,1690.7 L404.9,1692.4 L406.6,1694.1 L408.3,1695.8M444.4,1716.9 L446.6,1717.6 L448.9,1718.2 L451.2,1718.7 L453.5,1719.3M496.3,1722.3 L498.7,1722.2 L501.1,1722.2 L503.5,1722.1 L505.8,1722.0M548.8,1720.7 L551.2,1720.7 L553.6,1720.7 L555.9,1720.7 L558.3,1720.7M601.3,1721.3 L603.7,1721.3 L606.1,1721.4 L608.4,1721.4 L610.8,1721.4M653.8,1721.8 L656.2,1721.9 L658.6,1721.9 L660.9,1721.9 L663.3,1721.8M706.3,1721.6 L708.7,1721.6 L711.1,1721.6 L713.4,1721.6 L715.8,1721.6M758.8,1721.3 L761.2,1721.3 L763.6,1721.2 L765.9,1721.2 L768.3,1721.2M811.3,1721.5 L814.0,1721.5" fill="none" stroke="#231F20" stroke-width="8.5" stroke-linejoin="round"/>
<path d="M207.4,1116.2 L209.3,1117.1 L211.2,1118.0 L213.1,1119.1 L214.9,1120.2 L216.6,1121.5 L218.2,1122.9 L219.7,1124.4 L221.1,1125.9M232.9,1151.6 L233.4,1153.6 L233.9,1155.6 L234.3,1157.6 L234.8,1159.7 L235.2,1161.7 L235.6,1163.7 L236.0,1165.7 L236.4,1167.8 L236.8,1169.8 L237.2,1171.8 L237.7,1173.8 L238.1,1175.9 L238.5,1177.9 L238.9,1179.9 L239.3,1181.9M244.8,1209.8 L245.2,1211.8 L245.6,1213.8 L246.0,1215.9 L246.4,1217.9 L246.8,1219.9 L247.1,1222.0 L247.5,1224.0 L247.9,1226.0 L248.3,1228.1 L248.6,1230.1 L249.0,1232.1 L249.4,1234.2 L249.7,1236.2 L250.1,1238.2 L250.4,1240.3M255.1,1268.2 L255.5,1270.2 L255.8,1272.2 L256.1,1274.3 L256.4,1276.3 L256.8,1278.4 L257.1,1280.4 L257.4,1282.4 L257.7,1284.5 L258.1,1286.5 L258.4,1288.6 L258.7,1290.6 L259.0,1292.6 L259.3,1294.7 L259.7,1296.7 L260.0,1298.8M264.2,1326.4 L264.5,1328.5 L264.8,1330.5 L265.1,1332.6 L265.5,1334.6 L265.8,1336.6 L266.1,1338.7 L266.4,1340.7 L266.7,1342.8 L267.0,1344.8 L267.3,1346.9 L267.6,1348.9 L267.9,1350.9 L268.3,1353.0 L268.6,1355.0 L268.9,1357.1M273.1,1384.9 L273.5,1387.0 L273.8,1389.0 L274.1,1391.1 L274.4,1393.1 L274.7,1395.1 L275.0,1397.2 L275.4,1399.2 L275.7,1401.3 L276.0,1403.3 L276.3,1405.4 L276.6,1407.4 L276.9,1409.4 L277.3,1411.5 L277.6,1413.5 L277.9,1415.6M282.3,1443.1 L282.6,1445.1 L282.9,1447.2 L283.3,1449.2 L283.6,1451.3 L283.9,1453.3 L284.3,1455.3 L284.6,1457.4 L284.9,1459.4 L285.3,1461.5 L285.6,1463.5 L285.9,1465.5 L286.3,1467.6 L286.6,1469.6 L286.9,1471.7 L287.3,1473.7M292.0,1501.4 L292.3,1503.4 L292.7,1505.5 L293.0,1507.5 L293.4,1509.6 L293.7,1511.6 L294.1,1513.6 L294.4,1515.7 L294.8,1517.7 L295.2,1519.7 L295.5,1521.8 L295.9,1523.8 L296.2,1525.8 L296.6,1527.9 L297.0,1529.9 L297.3,1531.9M302.5,1559.8 L302.9,1561.9 L303.3,1563.9 L303.7,1565.9 L304.0,1568.0 L304.4,1570.0 L304.8,1572.0 L305.2,1574.0 L305.6,1576.1 L306.0,1578.1 L306.4,1580.1 L306.8,1582.2 L307.2,1584.2 L307.7,1586.2 L308.1,1588.2 L308.5,1590.2M314.6,1617.1 L315.2,1619.1 L315.7,1621.1 L316.2,1623.1 L316.7,1625.1 L317.3,1627.1 L317.8,1629.1 L318.4,1631.1 L318.9,1633.1 L319.5,1635.1 L320.1,1637.1 L320.7,1639.0 L321.3,1641.0 L321.9,1643.0 L322.5,1645.0 L323.2,1646.9M332.8,1673.0 L333.6,1674.9 L334.4,1676.8 L335.2,1678.7 L336.1,1680.6 L336.9,1682.4 L337.8,1684.3 L338.7,1686.2 L339.6,1688.1 L340.5,1689.9 L341.4,1691.7 L342.4,1693.6 L343.4,1695.4 L344.5,1697.2 L345.6,1698.9 L346.7,1700.6M367.7,1715.1 L369.7,1715.6 L371.7,1716.1 L373.7,1716.5 L375.8,1716.9 L377.8,1717.3 L379.9,1717.6 L381.9,1717.9 L383.9,1718.2 L386.0,1718.4 L388.0,1718.6 L390.1,1718.9 L392.2,1719.1 L394.2,1719.3 L396.3,1719.5 L398.3,1719.6M424.1,1717.3 L426.0,1716.6 L427.9,1715.7 L429.8,1714.8 L431.6,1713.8 L433.4,1712.8 L435.1,1711.7 L436.8,1710.5 L438.5,1709.3 L440.1,1708.0 L441.7,1706.7 L443.3,1705.3 L444.8,1703.9 L446.2,1702.5 L447.7,1701.0 L449.0,1699.4M462.5,1679.7 L463.5,1677.9 L464.5,1676.1 L465.4,1674.2 L466.3,1672.4 L467.2,1670.5 L468.1,1668.6 L468.9,1666.8 L469.8,1664.9 L470.6,1663.0 L471.4,1661.1 L472.2,1659.1 L472.9,1657.2 L473.7,1655.3 L474.4,1653.4 L475.1,1651.4M483.7,1624.8 L484.2,1622.8 L484.7,1620.8 L485.3,1618.8 L485.8,1616.8 L486.3,1614.8 L486.8,1612.8 L487.3,1610.8 L487.8,1608.8 L488.3,1606.8 L488.8,1604.8 L489.3,1602.8 L489.8,1600.8 L490.2,1598.8 L490.7,1596.8 L491.2,1594.8M496.9,1567.3 L497.3,1565.3 L497.7,1563.3 L498.1,1561.2 L498.5,1559.2 L498.9,1557.2 L499.2,1555.1 L499.6,1553.1 L500.0,1551.1 L500.4,1549.0 L500.7,1547.0 L501.1,1545.0 L501.5,1542.9 L501.8,1540.9 L502.2,1538.9 L502.6,1536.8M507.3,1509.0 L507.7,1507.0 L508.0,1504.9 L508.3,1502.9 L508.7,1500.9 L509.0,1498.8 L509.4,1496.8 L509.7,1494.8 L510.1,1492.7 L510.4,1490.7 L510.8,1488.6 L511.1,1486.6 L511.4,1484.6 L511.8,1482.5 L512.1,1480.5 L512.5,1478.5M517.3,1450.7 L517.6,1448.6 L518.0,1446.6 L518.4,1444.6 L518.7,1442.5 L519.1,1440.5 L519.4,1438.4 L519.8,1436.4 L520.1,1434.4 L520.5,1432.3 L520.9,1430.3 L521.2,1428.3 L521.6,1426.2 L521.9,1424.2 L522.3,1422.2 L522.6,1420.1M527.5,1392.6 L527.9,1390.5 L528.2,1388.5 L528.6,1386.5 L529.0,1384.4 L529.3,1382.4 L529.7,1380.4 L530.0,1378.3 L530.4,1376.3 L530.8,1374.2 L531.1,1372.2 L531.5,1370.2 L531.8,1368.1 L532.2,1366.1 L532.6,1364.1 L532.9,1362.0M537.8,1334.2 L538.2,1332.2 L538.5,1330.1 L538.9,1328.1 L539.2,1326.0 L539.6,1324.0 L540.0,1322.0 L540.3,1319.9 L540.7,1317.9 L541.0,1315.9 L541.4,1313.8 L541.7,1311.8 L542.1,1309.8 L542.4,1307.7 L542.8,1305.7 L543.1,1303.6M548.3,1273.2 L548.7,1271.2 L549.0,1269.1 L549.3,1267.1 L549.7,1265.1 L550.0,1263.0 L550.4,1261.0 L550.7,1258.9 L551.0,1256.9 L551.4,1254.9 L551.7,1252.8 L552.0,1250.8 L552.4,1248.7 L552.7,1246.7 L553.0,1244.7 L553.4,1242.6M558.2,1212.1 L558.6,1210.1 L558.9,1208.1 L559.2,1206.0 L559.5,1204.0 L559.8,1201.9 L560.2,1199.9 L560.5,1197.8 L560.8,1195.8 L561.2,1193.8 L561.5,1191.7 L561.9,1189.7 L562.3,1187.7 L562.7,1185.6 L563.1,1183.6 L563.5,1181.6M573.1,1152.3 L574.0,1150.4 L574.9,1148.6 L575.9,1146.8 L576.9,1145.0 L578.0,1143.2 L579.1,1141.5 L580.3,1139.8 L581.5,1138.1 L582.7,1136.5 L584.0,1134.8 L585.3,1133.3 L586.7,1131.7 L588.1,1130.2 L589.6,1128.7 L591.1,1127.3M602.0,1121.9 L604.1,1122.2 L605.9,1123.1 L607.5,1124.4 L608.9,1126.0 L610.0,1127.7 L611.1,1129.4 L612.1,1131.3 L613.0,1133.1 L613.8,1135.0 L614.6,1136.9 L615.4,1138.8 L616.1,1140.8 L616.9,1142.7 L617.6,1144.6 L618.3,1146.6M626.9,1175.8 L627.3,1177.8 L627.8,1179.8 L628.3,1181.9 L628.7,1183.9 L629.1,1185.9 L629.6,1187.9 L630.0,1189.9 L630.4,1192.0 L630.8,1194.0 L631.2,1196.0 L631.6,1198.0 L632.0,1200.1 L632.4,1202.1 L632.8,1204.1 L633.2,1206.2M639.2,1236.1 L639.6,1238.1 L640.0,1240.1 L640.4,1242.1 L640.8,1244.1 L641.2,1246.2 L641.7,1248.2 L642.1,1250.2 L642.5,1252.2 L642.9,1254.3 L643.3,1256.3 L643.8,1258.3 L644.2,1260.3 L644.6,1262.4 L645.0,1264.4 L645.4,1266.4M651.4,1296.3 L651.8,1298.3 L652.2,1300.4 L652.6,1302.4 L652.9,1304.4 L653.3,1306.5 L653.7,1308.5 L654.1,1310.5 L654.5,1312.5 L654.9,1314.6 L655.3,1316.6 L655.7,1318.6 L656.0,1320.7 L656.4,1322.7 L656.8,1324.7 L657.2,1326.8M661.7,1351.6 L662.1,1353.6 L662.5,1355.6 L662.9,1357.7 L663.2,1359.7 L663.6,1361.7 L664.0,1363.8 L664.3,1365.8 L664.7,1367.8 L665.1,1369.9 L665.4,1371.9 L665.8,1373.9 L666.2,1376.0 L666.5,1378.0 L666.9,1380.0 L667.3,1382.1M672.3,1409.9 L672.6,1412.0 L673.0,1414.0 L673.4,1416.0 L673.7,1418.1 L674.1,1420.1 L674.5,1422.1 L674.8,1424.2 L675.2,1426.2 L675.6,1428.2 L675.9,1430.3 L676.3,1432.3 L676.7,1434.3 L677.0,1436.4 L677.4,1438.4 L677.8,1440.4M682.8,1468.0 L683.2,1470.0 L683.6,1472.1 L684.0,1474.1 L684.4,1476.1 L684.8,1478.2 L685.1,1480.2 L685.5,1482.2 L685.9,1484.3 L686.3,1486.3 L686.7,1488.3 L687.1,1490.3 L687.5,1492.4 L687.9,1494.4 L688.3,1496.4 L688.6,1498.5M694.1,1525.9 L694.5,1527.9 L694.9,1529.9 L695.4,1531.9 L695.8,1534.0 L696.2,1536.0 L696.6,1538.0 L697.0,1540.0 L697.5,1542.1 L697.9,1544.1 L698.3,1546.1 L698.8,1548.1 L699.2,1550.1 L699.7,1552.1 L700.1,1554.2 L700.6,1556.2M707.2,1583.4 L707.7,1585.4 L708.2,1587.4 L708.8,1589.4 L709.3,1591.4 L709.8,1593.4 L710.4,1595.3 L711.0,1597.3 L711.5,1599.3 L712.1,1601.3 L712.7,1603.3 L713.3,1605.3 L713.9,1607.2 L714.5,1609.2 L715.1,1611.2 L715.7,1613.2M724.9,1639.6 L725.7,1641.5 L726.4,1643.5 L727.2,1645.4 L728.0,1647.3 L728.8,1649.2 L729.6,1651.1 L730.4,1653.0 L731.2,1654.9 L732.0,1656.8 L732.9,1658.7 L733.7,1660.6 L734.6,1662.5 L735.4,1664.3 L736.3,1666.2 L737.2,1668.1M750.6,1691.9 L751.7,1693.6 L752.9,1695.3 L754.0,1697.0 L755.2,1698.7 L756.4,1700.4 L757.7,1702.0 L758.9,1703.7 L760.2,1705.3 L761.5,1706.9 L762.8,1708.5 L764.2,1710.1 L765.6,1711.6 L767.0,1713.0 L768.6,1714.4 L770.1,1715.8M797.0,1720.9 L799.2,1720.4 L801.4,1720.0 L803.5,1719.6 L805.7,1719.4 L808.0,1719.3 L810.2,1719.5 L812.3,1720.2 L814.0,1721.5" fill="none" stroke="#0072BC" stroke-width="8.5" stroke-linejoin="round"/>
<path d="M207.4,1116.2 L208.9,1117.5 L210.4,1118.9 L211.9,1120.3 L213.2,1121.8 L214.5,1123.2 L215.8,1124.8 L217.0,1126.3 L218.1,1127.9 L219.2,1129.5 L220.3,1131.1 L221.3,1132.7 L222.2,1134.4 L223.2,1136.1 L224.0,1137.9 L224.9,1139.6 L225.7,1141.4 L226.4,1143.2 L227.1,1145.0 L227.8,1146.8 L228.5,1148.7 L229.1,1150.5 L229.7,1152.4 L230.3,1154.3 L230.8,1156.2 L231.4,1158.1 L231.9,1160.1 L232.4,1162.0 L232.8,1164.0 L233.3,1165.9 L233.7,1167.9 L234.1,1169.9 L234.5,1171.8 L234.9,1173.8 L235.3,1175.8 L235.7,1177.8 L236.1,1179.8 L236.5,1181.8 L236.8,1183.8 L237.2,1185.7 L237.6,1187.7 L237.9,1189.7 L238.3,1191.7 L238.7,1193.7 L239.0,1195.7 L239.4,1197.7 L239.8,1199.6 L240.1,1201.6 L240.5,1203.6 L240.8,1205.6 L241.2,1207.6 L241.5,1209.5 L241.9,1211.5 L242.2,1213.5 L242.6,1215.5 L242.9,1217.5 L243.2,1219.4 L243.6,1221.4 L243.9,1223.4 L244.2,1225.4 L244.6,1227.3 L244.9,1229.3 L245.2,1231.3 L245.6,1233.3 L245.9,1235.3 L246.2,1237.2 L246.5,1239.2 L246.9,1241.2 L247.2,1243.2 L247.5,1245.2 L247.8,1247.1 L248.1,1249.1 L248.4,1251.1 L248.7,1253.1 L249.0,1255.1 L249.3,1257.0 L249.6,1259.0 L249.9,1261.0 L250.2,1263.0 L250.5,1265.0 L250.8,1267.0 L251.1,1268.9 L251.4,1270.9 L251.7,1272.9 L252.0,1274.9 L252.3,1276.9 L252.5,1278.9 L252.8,1280.8 L253.1,1282.8 L253.4,1284.8 L253.7,1286.8 L253.9,1288.8 L254.2,1290.8 L254.5,1292.8 L254.8,1294.7 L255.1,1296.7 L255.3,1298.7 L255.6,1300.7 L255.9,1302.7 L256.2,1304.7 L256.4,1306.7 L256.7,1308.7 L257.0,1310.6 L257.2,1312.6 L257.5,1314.6 L257.8,1316.6 L258.1,1318.6 L258.3,1320.6 L258.6,1322.6 L258.9,1324.5 L259.1,1326.5 L259.4,1328.5 L259.7,1330.5 L260.0,1332.5 L260.2,1334.5 L260.5,1336.5 L260.8,1338.5 L261.0,1340.4 L261.3,1342.4 L261.6,1344.4 L261.9,1346.4 L262.1,1348.4 L262.4,1350.4 L262.7,1352.4 L263.0,1354.3 L263.3,1356.3 L263.5,1358.3 L263.8,1360.3 L264.1,1362.3 L264.4,1364.3 L264.7,1366.3 L265.0,1368.2 L265.2,1370.2 L265.5,1372.2 L265.8,1374.2 L266.1,1376.2 L266.4,1378.1 L266.7,1380.1 L267.0,1382.1 L267.3,1384.1 L267.6,1386.1 L267.9,1388.1 L268.2,1390.0 L268.5,1392.0 L268.8,1394.0 L269.1,1396.0 L269.4,1398.0 L269.7,1399.9 L270.0,1401.9 L270.4,1403.9 L270.7,1405.9 L271.0,1407.8 L271.3,1409.8 L271.6,1411.8 L272.0,1413.8 L272.3,1415.8 L272.6,1417.7 L272.9,1419.7 L273.2,1421.7 L273.6,1423.7 L273.9,1425.6 L274.2,1427.6 L274.5,1429.6 L274.9,1431.6 L275.2,1433.5 L275.5,1435.5 L275.9,1437.5 L276.2,1439.5 L276.5,1441.4 L276.9,1443.4 L277.2,1445.4 L277.5,1447.4 L277.9,1449.3 L278.2,1451.3 L278.5,1453.3 L278.9,1455.3 L279.2,1457.2 L279.5,1459.2 L279.9,1461.2 L280.2,1463.2 L280.5,1465.1 L280.9,1467.1 L281.2,1469.1 L281.5,1471.1 L281.9,1473.0 L282.2,1475.0 L282.5,1477.0 L282.9,1479.0 L283.2,1480.9 L283.5,1482.9 L283.9,1484.9 L284.2,1486.9 L284.5,1488.8 L284.9,1490.8 L285.2,1492.8 L285.5,1494.8 L285.9,1496.7 L286.2,1498.7 L286.5,1500.7 L286.9,1502.7 L287.2,1504.7 L287.5,1506.6 L287.8,1508.6 L288.2,1510.6 L288.5,1512.6 L288.8,1514.6 L289.1,1516.5 L289.4,1518.5 L289.8,1520.5 L290.1,1522.5 L290.4,1524.5 L290.7,1526.4 L291.0,1528.4 L291.3,1530.4 L291.6,1532.4 L292.0,1534.4 L292.3,1536.3 L292.6,1538.3 L292.9,1540.3 L293.2,1542.3 L293.5,1544.3 L293.8,1546.3 L294.1,1548.2 L294.4,1550.2 L294.7,1552.2 L295.0,1554.2 L295.4,1556.2 L295.7,1558.2 L296.0,1560.1 L296.3,1562.1 L296.6,1564.1 L297.0,1566.1 L297.3,1568.1 L297.6,1570.0 L298.0,1572.0 L298.3,1574.0 L298.6,1576.0 L299.0,1578.0 L299.3,1579.9 L299.7,1581.9 L300.0,1583.9 L300.4,1585.9 L300.8,1587.8 L301.1,1589.8 L301.5,1591.8 L301.9,1593.7 L302.3,1595.7 L302.7,1597.7 L303.1,1599.6 L303.5,1601.6 L303.9,1603.6 L304.3,1605.5 L304.8,1607.5 L305.2,1609.5 L305.7,1611.4 L306.1,1613.4 L306.6,1615.3 L307.1,1617.3 L307.5,1619.2 L308.0,1621.2 L308.5,1623.1 L309.0,1625.1 L309.5,1627.0 L310.1,1629.0 L310.6,1630.9 L311.1,1632.9 L311.7,1634.8 L312.3,1636.7 L312.8,1638.7 L313.4,1640.6 L314.0,1642.5 L314.6,1644.5 L315.3,1646.4 L315.9,1648.3 L316.5,1650.2 L317.2,1652.2 L317.9,1654.1 L318.6,1656.0 L319.3,1657.9 L320.0,1659.8 L320.7,1661.7 L321.4,1663.6 L322.2,1665.5 L323.0,1667.4 L323.7,1669.3 L324.5,1671.2 L325.4,1673.0 L326.2,1674.9 L327.1,1676.7 L328.0,1678.5 L328.9,1680.3 L329.9,1682.0 L330.8,1683.8 L331.9,1685.5 L332.9,1687.2 L334.0,1688.8 L335.1,1690.5 L336.2,1692.1 L337.4,1693.6 L338.6,1695.1 L339.8,1696.6 L341.1,1698.1 L342.4,1699.5 L343.8,1700.8 L345.2,1702.1 L346.6,1703.4 L348.1,1704.7 L349.6,1705.8 L351.1,1707.0 L352.7,1708.1 L354.2,1709.1 L355.9,1710.2 L357.5,1711.1 L359.2,1712.0 L360.9,1712.9 L362.6,1713.7 L364.3,1714.5 L366.1,1715.2 L367.9,1715.9 L369.7,1716.5 L371.5,1717.1 L373.4,1717.6 L375.2,1718.1 L377.1,1718.5 L379.0,1718.9 L380.9,1719.2 L382.9,1719.5 L384.8,1719.8 L386.8,1720.0 L388.7,1720.2 L390.7,1720.3 L392.7,1720.4 L394.7,1720.5 L396.7,1720.5 L398.8,1720.6 L400.8,1720.5 L402.8,1720.5 L404.9,1720.4 L406.9,1720.3 L409.0,1720.2 L411.0,1720.0 L413.1,1719.9 L415.1,1719.7 L417.2,1719.5 L419.3,1719.2 L421.3,1719.0 L423.4,1718.7 L425.4,1718.5 L427.5,1718.2 L429.5,1717.9 L431.6,1717.6 L433.6,1717.3 L435.6,1717.0 L437.7,1716.6 L439.7,1716.3 L441.7,1715.9 L443.7,1715.6 L445.8,1715.2 L447.8,1714.9 L449.8,1714.5 L451.8,1714.1 L453.8,1713.8 L455.8,1713.4 L457.8,1713.0 L459.8,1712.6 L461.8,1712.2 L463.7,1711.8 L465.7,1711.4 L467.7,1711.1 L469.7,1710.7 L471.7,1710.3 L473.6,1709.9 L475.6,1709.5 L477.6,1709.1 L479.6,1708.8 L481.5,1708.4 L483.5,1708.0 L485.5,1707.7 L487.4,1707.3 L489.4,1706.9 L491.4,1706.6 L493.3,1706.3 L495.3,1705.9 L497.2,1705.6 L499.2,1705.3 L501.2,1705.0 L503.1,1704.7 L505.1,1704.4 L507.0,1704.1 L509.0,1703.9 L510.9,1703.6 L512.9,1703.4 L514.9,1703.1 L516.8,1702.9 L518.8,1702.7 L520.7,1702.6 L522.7,1702.4 L524.7,1702.2 L526.6,1702.1 L528.6,1702.0 L530.5,1701.9 L532.5,1701.8 L534.5,1701.7 L536.4,1701.7 L538.4,1701.7 L540.4,1701.6 L542.4,1701.7 L544.3,1701.7 L546.3,1701.7 L548.3,1701.8 L550.3,1701.9 L552.2,1701.9 L554.2,1702.1 L556.2,1702.2 L558.2,1702.3 L560.2,1702.5 L562.1,1702.6 L564.1,1702.8 L566.1,1703.0 L568.1,1703.2 L570.1,1703.4 L572.1,1703.6 L574.1,1703.8 L576.1,1704.1 L578.0,1704.3 L580.0,1704.6 L582.0,1704.8 L584.0,1705.1 L586.0,1705.4 L588.0,1705.7 L590.0,1706.0 L592.0,1706.3 L594.0,1706.6 L596.0,1706.9 L598.0,1707.2 L600.0,1707.5 L602.0,1707.8 L604.0,1708.2 L606.0,1708.5 L608.0,1708.8 L610.0,1709.2 L612.0,1709.5 L614.0,1709.8 L616.0,1710.2 L618.0,1710.5 L620.0,1710.9 L622.0,1711.2 L624.0,1711.5 L626.0,1711.9 L628.0,1712.2 L630.0,1712.5 L632.0,1712.9 L634.0,1713.2 L636.0,1713.5 L638.0,1713.8 L640.0,1714.1 L642.0,1714.4 L644.0,1714.7 L646.0,1715.0 L648.0,1715.3 L650.0,1715.6 L652.0,1715.8 L654.0,1716.1 L656.0,1716.4 L658.0,1716.6 L660.0,1716.8 L662.0,1717.0 L664.0,1717.3 L666.0,1717.5 L668.0,1717.7 L670.0,1717.9 L672.0,1718.0 L674.0,1718.2 L676.0,1718.4 L677.9,1718.5 L679.9,1718.7 L681.9,1718.8 L683.9,1718.9 L685.9,1719.1 L687.9,1719.2 L689.9,1719.3 L691.9,1719.4 L693.9,1719.5 L695.9,1719.6 L697.9,1719.7 L699.9,1719.8 L701.9,1719.8 L703.9,1719.9 L705.8,1720.0 L707.8,1720.0 L709.8,1720.1 L711.8,1720.1 L713.8,1720.2 L715.8,1720.2 L717.8,1720.3 L719.8,1720.3 L721.8,1720.3 L723.8,1720.4 L725.8,1720.4 L727.8,1720.4 L729.8,1720.4 L731.8,1720.5 L733.8,1720.5 L735.8,1720.5 L737.7,1720.5 L739.7,1720.5 L741.7,1720.5 L743.7,1720.5 L745.7,1720.5 L747.7,1720.5 L749.7,1720.5 L751.7,1720.5 L753.7,1720.5 L755.7,1720.5 L757.7,1720.5 L759.7,1720.5 L761.7,1720.5 L763.7,1720.5 L765.7,1720.5 L767.7,1720.5 L769.7,1720.5 L771.7,1720.5 L773.7,1720.5 L775.7,1720.6 L777.7,1720.6 L779.8,1720.6 L781.8,1720.6 L783.8,1720.6 L785.8,1720.6 L787.8,1720.7 L789.8,1720.7 L791.8,1720.7 L793.8,1720.7 L795.8,1720.8 L797.9,1720.8 L799.9,1720.9 L801.9,1720.9 L803.9,1721.0 L805.9,1721.0 L807.9,1721.1 L810.0,1721.2 L812.0,1721.2 L814.0,1721.3" fill="none" stroke="#ED1C24" stroke-width="8.5" stroke-linejoin="round"/>
</g>
<rect x="450.8" y="1146.1" width="342.5" height="151.0" fill="#fff" stroke="#231F20" stroke-width="4.2"/>
<path d="M462.9,1180.0H524.0" stroke="#231F20" stroke-width="8.7" stroke-dasharray="31 9 10.5 8.5" stroke-dashoffset="14.8"/>
<path d="M462.9,1228.0H524.0" stroke="#0072BC" stroke-width="8.5" stroke-dasharray="31 28.5" stroke-dashoffset="14.8"/>
<path d="M462.9,1276.0H524.0" stroke="#ED1C24" stroke-width="9"/>
<g clip-path="url(#cc)">
<path d="M1076.6,758.3 L1078.6,758.4 L1080.6,758.4 L1082.6,758.5 L1084.6,758.6 L1086.6,758.6 L1088.6,758.6 L1090.6,758.7 L1092.6,758.7 L1094.6,758.7 L1096.6,758.7 L1098.6,758.7 L1100.6,758.7 L1102.6,758.6 L1104.6,758.6 L1106.6,758.5M1136.0,756.8 L1138.0,756.6 L1140.0,756.4 L1142.0,756.2 L1144.0,756.0 L1146.0,755.8 L1147.9,755.6 L1149.9,755.3 L1151.9,755.1 L1153.9,754.8 L1155.9,754.5 L1157.9,754.3 L1159.8,754.0 L1161.8,753.7 L1163.8,753.4 L1165.8,753.0M1194.7,747.2 L1196.7,746.7 L1198.6,746.3 L1200.6,745.8 L1202.5,745.3 L1204.4,744.8 L1206.4,744.2 L1208.3,743.7 L1210.2,743.2 L1212.1,742.6 L1214.1,742.1 L1216.0,741.5 L1217.9,740.9 L1219.8,740.3 L1221.7,739.7 L1223.6,739.1M1251.9,728.5 L1253.8,727.7 L1255.6,726.9 L1257.4,726.1 L1259.2,725.3 L1261.1,724.5 L1262.9,723.6 L1264.7,722.8 L1266.5,721.9 L1268.3,721.0 L1270.1,720.1 L1271.9,719.2 L1273.6,718.3 L1275.4,717.4 L1277.2,716.5 L1278.9,715.5M1303.4,700.8 L1305.2,699.6 L1307.0,698.4 L1308.7,697.2 L1310.5,696.0 L1312.2,694.7 L1314.0,693.5 L1315.7,692.2 L1317.4,690.9 L1319.1,689.7 L1320.8,688.4 L1322.5,687.1 L1324.2,685.7 L1325.9,684.4 L1327.6,683.1M1349.4,663.6 L1350.8,662.2 L1352.2,660.8 L1353.6,659.4 L1355.0,658.0 L1356.4,656.5 L1357.8,655.1 L1359.2,653.7 L1360.6,652.2 L1361.9,650.7 L1363.3,649.2 L1364.6,647.8 L1365.9,646.3 L1367.3,644.8 L1368.6,643.3 L1369.9,641.7M1388.5,618.1 L1389.7,616.4 L1390.9,614.8 L1392.0,613.2 L1393.2,611.5 L1394.3,609.9 L1395.4,608.2 L1396.5,606.6 L1397.7,604.9 L1398.8,603.3 L1399.9,601.6 L1400.9,599.9 L1402.0,598.2 L1403.1,596.5 L1404.2,594.8 L1405.2,593.2M1419.9,567.9 L1420.8,566.2 L1421.7,564.4 L1422.7,562.6 L1423.6,560.8 L1424.5,559.1 L1425.4,557.3 L1426.3,555.5 L1427.2,553.7 L1428.1,551.9 L1429.0,550.1 L1429.9,548.3 L1430.8,546.5 L1431.6,544.7 L1432.5,542.9 L1433.3,541.1M1445.5,513.3 L1446.2,511.5 L1447.0,509.6 L1447.7,507.7 L1448.4,505.9 L1449.1,504.0 L1449.9,502.2 L1450.6,500.3 L1451.3,498.4 L1452.0,496.5 L1452.7,494.7 L1453.4,492.8 L1454.1,490.9 L1454.7,489.0 L1455.4,487.1 L1456.1,485.3M1465.5,456.6 L1466.1,454.7 L1466.7,452.8 L1467.3,450.9 L1467.9,449.0 L1468.4,447.1 L1469.0,445.1 L1469.5,443.2 L1470.1,441.3 L1470.6,439.4 L1471.2,437.5 L1471.7,435.5 L1472.3,433.6 L1472.8,431.7 L1473.3,429.7 L1473.9,427.8M1481.2,399.0 L1481.6,397.0 L1482.1,395.1 L1482.6,393.1 L1483.0,391.2 L1483.5,389.2 L1483.9,387.3 L1484.3,385.3 L1484.8,383.4 L1485.2,381.4 L1485.6,379.5 L1486.1,377.5 L1486.5,375.6 L1486.9,373.6 L1487.4,371.7 L1487.8,369.7M1493.7,340.4 L1494.1,338.4 L1494.4,336.5 L1494.8,334.5 L1495.2,332.5 L1495.6,330.6 L1495.9,328.6 L1496.3,326.6 L1496.6,324.7 L1497.0,322.7 L1497.4,320.7 L1497.7,318.8 L1498.1,316.8 L1498.4,314.8 L1498.8,312.9 L1499.1,310.9M1504.2,281.4 L1504.5,279.5 L1504.8,277.5 L1505.1,275.5 L1505.5,273.5 L1505.8,271.6 L1506.1,269.6 L1506.4,267.6 L1506.8,265.6 L1507.1,263.7 L1507.4,261.7 L1507.7,259.7 L1508.0,257.7 L1508.3,255.8 L1508.7,253.8 L1509.0,251.8M1513.7,222.3 L1514.0,220.4 L1514.3,218.4 L1514.6,216.4 L1515.0,214.4 L1515.3,212.5 L1515.6,210.5 L1515.9,208.5 L1516.2,206.5 L1516.5,204.6 L1516.9,202.6 L1517.2,200.6 L1517.5,198.6 L1517.8,196.7 L1518.1,194.7 L1518.5,192.7" fill="none" stroke="#0072BC" stroke-width="8.3" stroke-linejoin="round"/>
<path d="M1077.4,360.1 L1079.5,360.1 L1081.5,360.2 L1083.6,360.2 L1085.7,360.2 L1087.7,360.3 L1089.8,360.3 L1091.9,360.4 L1094.0,360.4 L1096.0,360.5 L1098.1,360.6 L1100.2,360.6 L1102.2,360.7 L1104.3,360.8 L1106.4,360.9M1133.6,362.5 L1135.7,362.7 L1137.7,362.9 L1139.8,363.0 L1141.9,363.2 L1143.9,363.4 L1146.0,363.6 L1148.1,363.8 L1150.1,364.0 L1152.2,364.2 L1154.2,364.4 L1156.3,364.6 L1158.4,364.8 L1160.4,365.0 L1162.5,365.2M1191.6,369.0 L1193.7,369.3 L1195.7,369.6 L1197.7,369.9 L1199.7,370.3 L1201.7,370.6 L1203.8,370.9 L1205.8,371.2 L1207.8,371.6 L1209.8,371.9 L1211.8,372.3 L1213.8,372.6 L1215.8,373.0 L1217.9,373.3 L1219.9,373.7 L1221.9,374.1 L1223.9,374.4 L1225.9,374.8 L1227.9,375.2 L1229.9,375.6 L1231.9,376.0 L1233.9,376.4 L1235.9,376.8 L1237.9,377.2M1265.6,383.4 L1267.6,383.9 L1269.6,384.4 L1271.6,384.9 L1273.6,385.4 L1275.6,385.9 L1277.6,386.4 L1279.6,386.9 L1281.6,387.5 L1283.6,388.0 L1285.6,388.5 L1287.6,389.1 L1289.6,389.6 L1291.6,390.2 L1293.6,390.7M1318.4,398.0 L1320.3,398.6 L1322.3,399.3 L1324.3,399.9 L1326.3,400.5 L1328.2,401.2 L1330.2,401.8 L1332.2,402.4 L1334.1,403.1 L1336.1,403.7 L1338.1,404.4 L1340.0,405.1 L1342.0,405.7 L1343.9,406.4 L1345.9,407.1M1369.1,415.5 L1371.0,416.2 L1373.0,417.0 L1374.9,417.7 L1376.8,418.4 L1378.8,419.2 L1380.7,419.9 L1382.6,420.7 L1384.6,421.5 L1386.5,422.2 L1388.4,423.0 L1390.3,423.8 L1392.2,424.5 L1394.2,425.3 L1396.1,426.1M1420.0,436.4 L1421.9,437.2 L1423.8,438.1 L1425.7,438.9 L1427.6,439.8 L1429.5,440.6 L1431.4,441.5 L1433.2,442.4 L1435.1,443.3 L1437.0,444.2 L1438.8,445.1 L1440.7,446.0 L1442.6,446.9 L1444.4,447.8 L1446.3,448.7M1469.8,460.9 L1471.6,461.9 L1473.4,462.9 L1475.2,463.9 L1477.0,464.9 L1478.8,466.0 L1480.6,467.0 L1482.4,468.0 L1484.2,469.1 L1486.0,470.2 L1487.7,471.2 L1489.5,472.3 L1491.3,473.4 L1493.0,474.4 L1494.8,475.5M1516.5,489.9 L1518.2,491.1 L1519.8,492.3 L1521.5,493.5 L1523.2,494.7 L1524.9,495.9 L1526.5,497.2 L1528.2,498.4 L1529.8,499.7 L1531.5,500.9 L1533.1,502.2 L1534.7,503.5 L1536.4,504.8 L1538.0,506.1 L1539.6,507.4M1561.0,526.3 L1562.5,527.7 L1564.0,529.1 L1565.4,530.6 L1566.9,532.1 L1568.4,533.5 L1569.8,535.0 L1571.2,536.5 L1572.7,538.0 L1574.1,539.5 L1575.5,541.0 L1576.9,542.6 L1578.3,544.1 L1579.7,545.7 L1581.0,547.2M1599.3,570.3 L1600.5,572.0 L1601.7,573.7 L1602.8,575.4 L1604.0,577.1 L1605.2,578.8 L1606.3,580.5 L1607.5,582.3 L1608.6,584.0 L1609.7,585.7 L1610.8,587.5 L1612.0,589.2 L1613.0,591.0 L1614.1,592.8 L1615.2,594.5" fill="none" stroke="#231F20" stroke-width="7.5" stroke-linejoin="round"/>
<path d="M1076.5,463.3 L1078.5,463.3 L1080.5,463.3 L1082.5,463.3 L1084.5,463.3 L1086.6,463.3 L1088.6,463.3 L1090.6,463.3 L1092.6,463.3 L1094.6,463.3 L1096.6,463.3 L1098.6,463.3 L1100.6,463.4 L1102.6,463.4 L1104.6,463.5 L1106.7,463.5 L1108.7,463.5 L1110.7,463.6 L1112.7,463.6 L1114.7,463.7 L1116.7,463.8 L1118.7,463.8 L1120.7,463.9 L1122.7,464.0 L1124.7,464.0 L1126.7,464.1 L1128.7,464.2 L1130.7,464.3 L1132.7,464.4 L1134.7,464.5 L1136.7,464.6 L1138.7,464.7 L1140.7,464.8 L1142.7,464.9 L1144.7,465.0 L1146.7,465.1 L1148.7,465.2 L1150.7,465.4 L1152.7,465.5 L1154.7,465.6 L1156.7,465.7 L1158.7,465.9 L1160.7,466.0 L1162.7,466.1 L1164.7,466.3 L1166.7,466.4 L1168.7,466.6 L1170.7,466.7 L1172.7,466.9 L1174.7,467.0 L1176.7,467.2 L1178.7,467.3 L1180.7,467.5 L1182.7,467.7 L1184.7,467.8 L1186.7,468.0 L1188.7,468.2 L1190.7,468.4 L1192.7,468.5 L1194.7,468.7 L1196.7,468.9 L1198.7,469.1 L1200.6,469.3 L1202.6,469.5 L1204.6,469.6 L1206.6,469.8 L1208.6,470.0 L1210.6,470.2 L1212.6,470.4 L1214.6,470.6 L1216.6,470.8 L1218.6,471.0 L1220.6,471.2 L1222.6,471.4 L1224.6,471.6 L1226.6,471.8 L1228.6,472.1 L1230.6,472.3 L1232.5,472.5 L1234.5,472.7 L1236.5,472.9 L1238.5,473.1 L1240.5,473.3 L1242.5,473.6 L1244.5,473.8 L1246.5,474.0 L1248.5,474.2 L1250.5,474.5 L1252.5,474.7 L1254.5,474.9 L1256.5,475.1 L1258.4,475.4 L1260.4,475.6 L1262.4,475.8 L1264.4,476.0 L1266.4,476.3 L1268.4,476.5 L1270.4,476.7 L1272.4,477.0 L1274.4,477.2 L1276.4,477.4 L1278.4,477.7 L1280.4,477.9 L1282.3,478.2 L1284.3,478.4 L1286.3,478.6 L1288.3,478.9 L1290.3,479.1 L1292.3,479.3 L1294.3,479.6 L1296.3,479.8 L1298.3,480.0 L1300.3,480.3 L1302.3,480.5 L1304.3,480.8 L1306.3,481.0 L1308.3,481.2 L1310.2,481.5 L1312.2,481.7 L1314.2,481.9 L1316.2,482.2 L1318.2,482.4 L1320.2,482.7 L1322.2,482.9 L1324.2,483.2 L1326.2,483.4 L1328.2,483.6 L1330.2,483.9 L1332.2,484.1 L1334.2,484.4 L1336.1,484.7 L1338.1,484.9 L1340.1,485.2 L1342.1,485.4 L1344.1,485.7 L1346.1,485.9 L1348.1,486.2 L1350.1,486.5 L1352.1,486.7 L1354.0,487.0 L1356.0,487.3 L1358.0,487.6 L1360.0,487.8 L1362.0,488.1 L1364.0,488.4 L1366.0,488.7 L1367.9,489.0 L1369.9,489.3 L1371.9,489.6 L1373.9,489.9 L1375.9,490.2 L1377.8,490.5 L1379.8,490.8 L1381.8,491.1 L1383.8,491.5 L1385.8,491.8 L1387.7,492.1 L1389.7,492.4 L1391.7,492.8 L1393.7,493.1 L1395.6,493.5 L1397.6,493.8 L1399.6,494.2 L1401.5,494.5 L1403.5,494.9 L1405.5,495.3 L1407.4,495.6 L1409.4,496.0 L1411.4,496.4 L1413.3,496.8 L1415.3,497.2 L1417.2,497.6 L1419.2,498.0 L1421.1,498.4 L1423.1,498.8 L1425.1,499.2 L1427.0,499.7 L1429.0,500.1 L1430.9,500.5 L1432.9,501.0 L1434.8,501.5 L1436.7,501.9 L1438.7,502.4 L1440.6,502.9 L1442.6,503.3 L1444.5,503.8 L1446.5,504.3 L1448.4,504.8 L1450.3,505.3 L1452.3,505.8 L1454.2,506.4 L1456.1,506.9 L1458.0,507.4 L1460.0,508.0 L1461.9,508.5 L1463.8,509.1 L1465.7,509.7 L1467.7,510.2 L1469.6,510.8 L1471.5,511.4 L1473.4,512.0 L1475.3,512.6 L1477.2,513.2 L1479.1,513.9 L1481.0,514.5 L1482.9,515.1 L1484.8,515.8 L1486.7,516.4 L1488.6,517.1 L1490.5,517.8 L1492.4,518.5 L1494.3,519.2 L1496.2,519.9 L1498.1,520.6 L1500.0,521.3 L1501.9,522.0 L1503.7,522.8 L1505.6,523.5 L1507.5,524.3 L1509.4,525.1 L1511.2,525.9 L1513.1,526.7 L1515.0,527.5 L1516.8,528.3 L1518.7,529.1 L1520.5,529.9 L1522.4,530.8 L1524.2,531.6 L1526.1,532.5 L1527.9,533.4 L1529.7,534.3 L1531.6,535.1 L1533.4,536.1 L1535.2,537.0 L1537.0,537.9 L1538.8,538.8 L1540.6,539.8 L1542.4,540.8 L1544.2,541.7 L1545.9,542.7 L1547.7,543.7 L1549.4,544.7 L1551.2,545.7 L1552.9,546.8 L1554.7,547.8 L1556.4,548.9 L1558.1,549.9 L1559.8,551.0 L1561.5,552.1 L1563.2,553.2 L1564.9,554.3 L1566.5,555.4 L1568.2,556.5 L1569.8,557.7 L1571.5,558.8 L1573.1,560.0 L1574.7,561.2 L1576.3,562.4 L1577.9,563.6 L1579.4,564.8 L1581.0,566.0 L1582.6,567.3 L1584.1,568.5 L1585.6,569.8 L1587.1,571.1 L1588.6,572.4 L1590.1,573.7 L1591.6,575.0 L1593.0,576.3 L1594.4,577.7 L1595.9,579.1 L1597.3,580.4 L1598.7,581.8 L1600.0,583.2 L1601.4,584.6 L1602.8,586.0 L1604.1,587.5 L1605.4,588.9 L1606.7,590.4 L1608.0,591.9 L1609.2,593.4 L1610.5,594.9 L1611.7,596.4 L1612.9,597.9 L1614.1,599.5 L1615.3,601.0 L1616.4,602.6 L1617.5,604.2 L1618.6,605.8 L1619.7,607.4 L1620.8,609.0 L1621.9,610.7 L1622.9,612.3 L1623.9,614.0 L1624.9,615.7 L1625.9,617.4 L1626.8,619.1 L1627.7,620.8 L1628.7,622.6 L1629.5,624.3 L1630.4,626.1 L1631.2,627.9 L1632.1,629.7 L1632.8,631.5 L1633.6,633.4 L1634.4,635.2 L1635.1,637.1 L1635.8,639.0 L1636.5,640.9 L1637.1,642.8 L1637.8,644.7 L1638.4,646.6 L1639.0,648.5 L1639.5,650.5 L1640.1,652.5 L1640.6,654.4 L1641.2,656.4 L1641.7,658.4 L1642.2,660.4 L1642.6,662.4 L1643.1,664.4 L1643.5,666.4 L1643.9,668.4 L1644.3,670.5 L1644.7,672.5 L1645.1,674.5 L1645.5,676.6 L1645.8,678.6 L1646.2,680.6 L1646.5,682.7 L1646.8,684.7 L1647.1,686.8 L1647.4,688.8 L1647.7,690.9 L1648.0,692.9 L1648.3,695.0 L1648.5,697.0 L1648.8,699.0 L1649.0,701.1 L1649.3,703.1 L1649.5,705.1 L1649.7,707.1 L1649.9,709.2 L1650.2,711.2 L1650.4,713.2 L1650.6,715.2 L1650.8,717.2 L1651.0,719.2 L1651.2,721.1 L1651.3,723.1 L1651.5,725.1 L1651.7,727.1 L1651.9,729.1 L1652.1,731.0 L1652.2,733.0 L1652.4,735.0 L1652.5,736.9 L1652.7,738.9 L1652.8,740.9 L1653.0,742.8 L1653.1,744.8 L1653.3,746.8 L1653.4,748.7 L1653.6,750.7 L1653.7,752.7 L1653.8,754.6 L1653.9,756.6 L1654.1,758.6 L1654.2,760.5 L1654.3,762.5 L1654.4,764.5 L1654.5,766.5 L1654.7,768.5 L1654.8,770.5 L1654.9,772.5 L1655.0,774.5 L1655.1,776.5 L1655.2,778.5" fill="none" stroke="#231F20" stroke-width="7.5" stroke-linejoin="round"/>
<path d="M1076.5,775.0 L1078.5,775.0 L1080.6,775.0 L1082.6,775.1 L1084.6,775.1 L1086.6,775.1 L1088.7,775.1 L1090.7,775.1 L1092.7,775.1 L1094.7,775.2 L1096.8,775.2 L1098.8,775.2 L1100.8,775.2 L1102.8,775.2 L1104.8,775.2 L1106.9,775.2 L1108.9,775.2 L1110.9,775.2 L1112.9,775.3 L1114.9,775.3 L1116.9,775.3 L1119.0,775.3 L1121.0,775.3 L1123.0,775.3 L1125.0,775.3 L1127.0,775.3 L1129.0,775.3 L1131.0,775.3 L1133.0,775.3 L1135.0,775.3 L1137.0,775.3 L1139.1,775.3 L1141.1,775.3 L1143.1,775.3 L1145.1,775.2 L1147.1,775.2 L1149.1,775.2 L1151.1,775.2 L1153.1,775.2 L1155.1,775.2 L1157.1,775.2 L1159.1,775.2 L1161.1,775.2 L1163.1,775.2 L1165.1,775.2 L1167.1,775.1 L1169.1,775.1 L1171.1,775.1 L1173.1,775.1 L1175.1,775.1 L1177.1,775.1 L1179.1,775.1 L1181.1,775.0 L1183.1,775.0 L1185.1,775.0 L1187.1,775.0 L1189.1,775.0 L1191.1,774.9 L1193.1,774.9 L1195.0,774.9 L1197.0,774.9 L1199.0,774.9 L1201.0,774.9 L1203.0,774.8 L1205.0,774.8 L1207.0,774.8 L1209.0,774.8 L1211.0,774.7 L1213.0,774.7 L1215.0,774.7 L1217.0,774.7 L1219.0,774.7 L1221.0,774.6 L1223.0,774.6 L1224.9,774.6 L1226.9,774.6 L1228.9,774.5 L1230.9,774.5 L1232.9,774.5 L1234.9,774.5 L1236.9,774.4 L1238.9,774.4 L1240.9,774.4 L1242.9,774.4 L1244.9,774.3 L1246.9,774.3 L1248.9,774.3 L1250.8,774.2 L1252.8,774.2 L1254.8,774.2 L1256.8,774.2 L1258.8,774.1 L1260.8,774.1 L1262.8,774.1 L1264.8,774.1 L1266.8,774.0 L1268.8,774.0 L1270.8,774.0 L1272.8,773.9 L1274.8,773.9 L1276.8,773.9 L1278.8,773.9 L1280.8,773.8 L1282.8,773.8 L1284.8,773.8 L1286.8,773.8 L1288.8,773.7 L1290.7,773.7 L1292.7,773.7 L1294.7,773.7 L1296.7,773.6 L1298.7,773.6 L1300.7,773.6 L1302.7,773.6 L1304.7,773.5 L1306.7,773.5 L1308.7,773.5 L1310.8,773.5 L1312.8,773.4 L1314.8,773.4 L1316.8,773.4 L1318.8,773.4 L1320.8,773.3 L1322.8,773.3 L1324.8,773.3 L1326.8,773.3 L1328.8,773.2 L1330.8,773.2 L1332.8,773.2 L1334.8,773.2 L1336.8,773.2 L1338.8,773.1 L1340.9,773.1 L1342.9,773.1 L1344.9,773.1 L1346.9,773.1 L1348.9,773.0 L1350.9,773.0 L1352.9,773.0 L1355.0,773.0 L1357.0,773.0 L1359.0,773.0 L1361.0,772.9 L1363.0,772.9 L1365.0,772.9 L1367.1,772.9 L1369.1,772.9 L1371.1,772.9 L1373.1,772.9 L1375.2,772.8 L1377.2,772.8 L1379.2,772.8 L1381.2,772.8 L1383.3,772.8 L1385.3,772.8 L1387.3,772.8 L1389.4,772.8 L1391.4,772.8 L1393.4,772.8 L1395.5,772.8 L1397.5,772.8 L1399.5,772.7 L1401.6,772.7 L1403.6,772.7 L1405.6,772.7 L1407.7,772.7 L1409.7,772.7 L1411.8,772.7 L1413.8,772.7 L1415.8,772.6 L1417.9,772.6 L1419.9,772.6 L1421.9,772.5 L1424.0,772.5 L1426.0,772.5 L1428.1,772.4 L1430.1,772.4 L1432.1,772.3 L1434.1,772.2 L1436.2,772.2 L1438.2,772.1 L1440.2,772.0 L1442.3,771.9 L1444.3,771.8 L1446.3,771.7 L1448.3,771.6 L1450.3,771.4 L1452.3,771.3 L1454.4,771.2 L1456.4,771.0 L1458.4,770.8 L1460.4,770.7 L1462.4,770.5 L1464.4,770.3 L1466.4,770.1 L1468.4,769.8 L1470.3,769.6 L1472.3,769.3 L1474.3,769.1 L1476.3,768.8 L1478.3,768.5 L1480.2,768.2 L1482.2,767.9 L1484.1,767.6 L1486.1,767.2 L1488.1,766.9 L1490.0,766.5 L1491.9,766.1 L1493.9,765.7 L1495.8,765.2 L1497.7,764.8 L1499.7,764.3 L1501.6,763.8 L1503.5,763.3 L1505.4,762.8 L1507.3,762.3 L1509.2,761.7 L1511.1,761.2 L1513.0,760.6 L1514.9,759.9 L1516.7,759.3 L1518.6,758.7 L1520.5,758.0 L1522.3,757.3 L1524.2,756.5 L1526.0,755.8 L1527.8,755.0 L1529.6,754.2 L1531.5,753.4 L1533.3,752.6 L1535.0,751.7 L1536.8,750.8 L1538.5,749.9 L1540.3,748.9 L1542.0,748.0 L1543.6,746.9 L1545.3,745.9 L1546.9,744.8 L1548.5,743.7 L1550.1,742.6 L1551.7,741.4 L1553.2,740.2 L1554.7,739.0 L1556.1,737.7 L1557.6,736.4 L1558.9,735.1 L1560.3,733.7 L1561.6,732.2 L1562.8,730.8 L1564.1,729.3 L1565.3,727.8 L1566.4,726.2 L1567.5,724.6 L1568.6,723.0 L1569.7,721.3 L1570.7,719.7 L1571.7,718.0 L1572.7,716.2 L1573.6,714.5 L1574.5,712.7 L1575.4,710.9 L1576.3,709.1 L1577.1,707.3 L1577.9,705.5 L1578.7,703.6 L1579.5,701.7 L1580.2,699.9 L1581.0,698.0 L1581.7,696.1 L1582.4,694.2 L1583.0,692.3 L1583.7,690.3 L1584.4,688.4 L1585.0,686.5 L1585.6,684.6 L1586.2,682.6 L1586.9,680.7 L1587.4,678.8 L1588.0,676.8 L1588.6,674.9 L1589.1,673.0 L1589.7,671.0 L1590.2,669.1 L1590.7,667.1 L1591.2,665.2 L1591.7,663.2 L1592.2,661.2 L1592.7,659.3 L1593.1,657.3 L1593.6,655.4 L1594.0,653.4 L1594.4,651.4 L1594.9,649.5 L1595.3,647.5 L1595.7,645.5 L1596.1,643.5 L1596.4,641.5 L1596.8,639.6 L1597.2,637.6 L1597.5,635.6 L1597.9,633.6 L1598.2,631.6 L1598.6,629.6 L1598.9,627.6 L1599.2,625.7 L1599.5,623.7 L1599.8,621.7 L1600.1,619.7 L1600.4,617.7 L1600.7,615.7 L1600.9,613.7 L1601.2,611.7 L1601.5,609.7 L1601.7,607.7 L1602.0,605.7 L1602.2,603.7 L1602.5,601.7 L1602.7,599.7 L1602.9,597.7 L1603.2,595.7 L1603.4,593.7 L1603.6,591.7 L1603.8,589.6 L1604.0,587.6 L1604.2,585.6 L1604.4,583.6 L1604.6,581.6 L1604.8,579.6 L1605.0,577.6 L1605.2,575.6 L1605.4,573.6 L1605.6,571.6 L1605.8,569.6 L1605.9,567.6 L1606.1,565.6 L1606.3,563.6 L1606.5,561.6 L1606.6,559.6 L1606.8,557.6 L1607.0,555.6 L1607.1,553.6 L1607.3,551.6 L1607.5,549.6 L1607.6,547.6 L1607.8,545.6 L1607.9,543.6 L1608.1,541.6 L1608.2,539.6 L1608.4,537.6 L1608.5,535.6 L1608.7,533.6 L1608.8,531.6 L1609.0,529.6 L1609.1,527.6 L1609.2,525.6 L1609.4,523.6 L1609.5,521.6 L1609.6,519.6 L1609.8,517.6 L1609.9,515.6 L1610.0,513.6 L1610.2,511.6 L1610.3,509.6 L1610.4,507.6 L1610.5,505.7 L1610.6,503.7 L1610.8,501.7 L1610.9,499.7 L1611.0,497.7 L1611.1,495.7 L1611.2,493.7 L1611.3,491.7 L1611.4,489.7 L1611.6,487.7 L1611.7,485.7 L1611.8,483.7 L1611.9,481.7 L1612.0,479.7 L1612.1,477.7 L1612.2,475.7 L1612.3,473.7 L1612.4,471.7 L1612.5,469.7 L1612.6,467.7 L1612.7,465.7 L1612.8,463.7 L1612.9,461.7 L1613.0,459.7 L1613.1,457.7 L1613.1,455.7 L1613.2,453.7 L1613.3,451.7 L1613.4,449.7 L1613.5,447.7 L1613.6,445.7 L1613.7,443.7 L1613.7,441.7 L1613.8,439.7 L1613.9,437.7 L1614.0,435.7 L1614.1,433.7 L1614.2,431.7 L1614.2,429.7 L1614.3,427.7 L1614.4,425.7 L1614.5,423.7 L1614.5,421.7 L1614.6,419.7 L1614.7,417.7 L1614.8,415.7 L1614.8,413.7 L1614.9,411.7 L1615.0,409.7 L1615.1,407.7 L1615.1,405.7 L1615.2,403.7 L1615.3,401.7 L1615.3,399.7 L1615.4,397.7 L1615.5,395.7 L1615.5,393.7 L1615.6,391.7 L1615.7,389.7 L1615.7,387.6 L1615.8,385.6 L1615.9,383.6 L1615.9,381.6 L1616.0,379.6 L1616.1,377.6 L1616.1,375.6 L1616.2,373.6 L1616.2,371.6 L1616.3,369.6 L1616.4,367.6 L1616.4,365.6 L1616.5,363.6 L1616.5,361.6 L1616.6,359.6 L1616.7,357.5 L1616.7,355.5 L1616.8,353.5 L1616.8,351.5 L1616.9,349.5 L1616.9,347.5 L1617.0,345.5 L1617.1,343.5 L1617.1,341.5 L1617.2,339.5 L1617.2,337.5 L1617.3,335.5 L1617.3,333.5 L1617.4,331.4 L1617.5,329.4 L1617.5,327.4 L1617.6,325.4 L1617.6,323.4 L1617.7,321.4 L1617.7,319.4 L1617.8,317.4 L1617.8,315.4 L1617.9,313.4 L1618.0,311.4 L1618.0,309.4 L1618.1,307.3 L1618.1,305.3 L1618.2,303.3 L1618.2,301.3 L1618.3,299.3 L1618.3,297.3 L1618.4,295.3 L1618.5,293.3 L1618.5,291.3 L1618.6,289.3 L1618.6,287.3 L1618.7,285.3 L1618.7,283.2 L1618.8,281.2 L1618.9,279.2 L1618.9,277.2 L1619.0,275.2 L1619.0,273.2 L1619.1,271.2 L1619.1,269.2 L1619.2,267.2 L1619.3,265.2 L1619.3,263.2 L1619.4,261.2 L1619.4,259.2 L1619.5,257.1 L1619.6,255.1 L1619.6,253.1 L1619.7,251.1 L1619.7,249.1 L1619.8,247.1 L1619.9,245.1 L1619.9,243.1 L1620.0,241.1 L1620.1,239.1 L1620.1,237.1 L1620.2,235.1 L1620.3,233.1 L1620.3,231.1 L1620.4,229.1 L1620.5,227.1 L1620.5,225.1 L1620.6,223.0 L1620.7,221.0 L1620.7,219.0 L1620.8,217.0 L1620.9,215.0 L1620.9,213.0 L1621.0,211.0 L1621.1,209.0 L1621.2,207.0 L1621.2,205.0 L1621.3,203.0 L1621.4,201.0 L1621.5,199.0 L1621.5,197.0 L1621.6,195.0 L1621.7,193.0 L1621.8,191.0 L1621.9,189.0 L1621.9,187.0 L1622.0,185.0 L1622.1,183.0 L1622.2,181.0 L1622.3,179.0 L1622.4,177.0 L1622.4,175.0 L1622.5,173.0 L1622.6,171.0 L1622.7,169.0 L1622.8,167.0" fill="none" stroke="#0072BC" stroke-width="8.3" stroke-linejoin="round"/>
</g>
<path d="M1334.2,522.0H1216.0" stroke="#231F20" stroke-width="7.5" fill="none"/><path d="M1191.7,522.0L1223.0,509.1L1216.0,522.0L1223.0,534.9Z" fill="#231F20"/>
<path d="M1403.1,618.9H1517.5" stroke="#0072BC" stroke-width="7.6" fill="none"/><path d="M1543.1,618.9L1512.5,606.1L1517.5,618.9L1512.5,631.6999999999999Z" fill="#0072BC"/>
<g clip-path="url(#cd)">
<path d="M1077.2,1721.5 L1079.2,1721.5 L1081.2,1721.4 L1083.2,1721.4 L1085.2,1721.4 L1087.2,1721.4 L1089.2,1721.4 L1091.2,1721.3 L1093.2,1721.3 L1095.2,1721.3 L1097.2,1721.3 L1099.2,1721.3 L1101.2,1721.2 L1103.2,1721.2 L1105.2,1721.2 L1107.2,1721.2M1136.7,1720.9 L1138.7,1720.9 L1140.7,1720.9 L1142.7,1720.8 L1144.7,1720.8 L1146.7,1720.8 L1148.7,1720.8 L1150.7,1720.8 L1152.7,1720.7 L1154.7,1720.7 L1156.7,1720.7 L1158.7,1720.7 L1160.7,1720.6 L1162.7,1720.6 L1164.7,1720.6 L1166.7,1720.5M1196.2,1720.0 L1198.2,1720.0 L1200.2,1719.9 L1202.2,1719.9 L1204.2,1719.8 L1206.2,1719.8 L1208.2,1719.7 L1210.2,1719.7 L1212.2,1719.6 L1214.2,1719.5 L1216.2,1719.5 L1218.2,1719.4 L1220.2,1719.4 L1222.2,1719.3 L1224.2,1719.2 L1226.2,1719.2M1255.6,1717.8 L1257.6,1717.7 L1259.6,1717.6 L1261.6,1717.4 L1263.6,1717.3 L1265.6,1717.1 L1267.6,1717.0 L1269.6,1716.8 L1271.6,1716.6 L1273.6,1716.5 L1275.6,1716.3 L1277.6,1716.1 L1279.6,1715.9 L1281.5,1715.6 L1283.5,1715.4 L1285.5,1715.2M1314.6,1710.4 L1316.6,1710.0 L1318.5,1709.6 L1320.5,1709.1 L1322.4,1708.6 L1324.4,1708.1 L1326.3,1707.6 L1328.2,1707.1 L1330.1,1706.6 L1332.1,1706.0 L1334.0,1705.5 L1335.9,1704.9 L1337.8,1704.3 L1339.7,1703.6 L1341.6,1703.0 L1343.5,1702.3M1370.7,1689.9 L1372.4,1688.9 L1374.2,1687.9 L1375.9,1686.8 L1377.6,1685.7 L1379.2,1684.6 L1380.9,1683.5 L1382.5,1682.4 L1384.2,1681.2 L1385.8,1680.0 L1387.4,1678.8 L1389.0,1677.6 L1390.5,1676.4 L1392.1,1675.1 L1393.6,1673.9 L1395.2,1672.6M1415.5,1652.1 L1416.7,1650.6 L1418.0,1649.0 L1419.3,1647.5 L1420.5,1645.9 L1421.7,1644.3 L1422.9,1642.7 L1424.1,1641.1 L1425.3,1639.5 L1426.5,1637.9 L1427.6,1636.2 L1428.8,1634.6 L1429.9,1632.9 L1431.0,1631.3 L1432.1,1629.6 L1433.1,1627.9M1447.0,1601.8 L1447.9,1600.0 L1448.7,1598.1 L1449.5,1596.3 L1450.2,1594.4 L1451.0,1592.6 L1451.7,1590.7 L1452.5,1588.9 L1453.2,1587.0 L1453.9,1585.1 L1454.6,1583.3 L1455.3,1581.4 L1456.0,1579.5 L1456.6,1577.6 L1457.3,1575.7 L1457.9,1573.8M1465.5,1548.5 L1466.0,1546.6 L1466.5,1544.6 L1467.0,1542.7 L1467.5,1540.7 L1468.0,1538.8 L1468.5,1536.9 L1469.0,1534.9 L1469.4,1533.0 L1469.9,1531.0 L1470.4,1529.1 L1470.8,1527.2 L1471.3,1525.2 L1471.7,1523.3 L1472.2,1521.3 L1472.6,1519.4M1479.6,1486.9 L1480.0,1485.0 L1480.4,1483.0 L1480.8,1481.0 L1481.2,1479.1 L1481.6,1477.1 L1482.0,1475.2 L1482.4,1473.2 L1482.7,1471.2 L1483.1,1469.3 L1483.5,1467.3 L1483.8,1465.3 L1484.2,1463.4 L1484.6,1461.4 L1484.9,1459.4 L1485.3,1457.5M1491.0,1423.8 L1491.3,1421.8 L1491.6,1419.8 L1491.9,1417.9 L1492.2,1415.9 L1492.5,1413.9 L1492.8,1411.9 L1493.1,1410.0 L1493.4,1408.0 L1493.7,1406.0 L1494.0,1404.0 L1494.3,1402.0 L1494.6,1400.1 L1494.8,1398.1 L1495.1,1396.1 L1495.4,1394.1M1498.8,1368.5 L1499.1,1366.5 L1499.3,1364.5 L1499.6,1362.5 L1499.8,1360.5 L1500.1,1358.5 L1500.3,1356.5 L1500.5,1354.6 L1500.8,1352.6 L1501.0,1350.6 L1501.2,1348.6 L1501.5,1346.6 L1501.7,1344.6 L1501.9,1342.6 L1502.1,1340.7 L1502.4,1338.7M1505.5,1309.3 L1505.7,1307.3 L1505.9,1305.3 L1506.1,1303.3 L1506.2,1301.3 L1506.4,1299.3 L1506.6,1297.3 L1506.8,1295.3 L1507.0,1293.3 L1507.2,1291.3 L1507.4,1289.3 L1507.6,1287.4 L1507.7,1285.4 L1507.9,1283.4 L1508.1,1281.4 L1508.3,1279.4M1510.8,1249.4 L1511.0,1247.4 L1511.1,1245.4 L1511.3,1243.4 L1511.4,1241.4 L1511.6,1239.4 L1511.7,1237.4 L1511.9,1235.4 L1512.0,1233.4 L1512.2,1231.4 L1512.3,1229.4 L1512.5,1227.4 L1512.6,1225.4 L1512.8,1223.5 L1512.9,1221.5 L1513.1,1219.5M1515.2,1189.6 L1515.3,1187.6 L1515.5,1185.6 L1515.6,1183.6 L1515.7,1181.6 L1515.9,1179.6 L1516.0,1177.6 L1516.1,1175.6 L1516.3,1173.6 L1516.4,1171.6 L1516.5,1169.6 L1516.7,1167.6 L1516.8,1165.6 L1516.9,1163.7 L1517.0,1161.7 L1517.2,1159.7M1518.6,1136.8 L1518.8,1134.8 L1518.9,1132.7 L1519.0,1130.6 L1519.2,1128.6 L1519.3,1126.5 L1519.4,1124.4 L1519.5,1122.3 L1519.7,1120.3 L1519.8,1118.2 L1519.9,1116.1 L1520.1,1114.1 L1520.2,1112.0" fill="none" stroke="#0072BC" stroke-width="8.3" stroke-linejoin="round"/>
<path d="M1073,1529.5H1518V1722" fill="none" stroke="#ED1C24" stroke-width="8.5" stroke-dasharray="8.5 6.4"/>
<path d="M1078.3,1420.6 L1080.4,1420.6 L1082.5,1420.6 L1084.5,1420.6 L1086.6,1420.6 L1088.7,1420.7 L1090.7,1420.7 L1092.8,1420.7 L1094.9,1420.7 L1097.0,1420.8 L1099.0,1420.8 L1101.1,1420.9 L1103.2,1420.9 L1105.2,1421.0 L1107.3,1421.0M1136.0,1422.2 L1138.1,1422.3 L1140.2,1422.4 L1142.2,1422.6 L1144.3,1422.7 L1146.4,1422.8 L1148.4,1423.0 L1150.5,1423.1 L1152.6,1423.2 L1154.6,1423.4 L1156.7,1423.5 L1158.8,1423.7 L1160.8,1423.9 L1162.9,1424.0 L1165.0,1424.2M1194.0,1426.9 L1196.1,1427.2 L1198.1,1427.4 L1200.2,1427.6 L1202.2,1427.8 L1204.3,1428.1 L1206.3,1428.3 L1208.4,1428.6 L1210.4,1428.8 L1212.5,1429.1 L1214.6,1429.3 L1216.6,1429.6 L1218.7,1429.9 L1220.7,1430.1 L1222.8,1430.4 L1224.8,1430.7 L1226.9,1431.0 L1228.9,1431.2 L1230.9,1431.5 L1233.0,1431.8 L1235.0,1432.1 L1237.1,1432.4 L1239.1,1432.7M1268.3,1437.4 L1270.3,1437.8 L1272.4,1438.1 L1274.4,1438.5 L1276.5,1438.9 L1278.5,1439.3 L1280.5,1439.6 L1282.6,1440.0 L1284.6,1440.4 L1286.6,1440.8 L1288.7,1441.2 L1290.7,1441.6 L1292.7,1442.0 L1294.8,1442.4 L1296.8,1442.8M1322.0,1448.1 L1324.0,1448.5 L1326.0,1449.0 L1328.1,1449.4 L1330.1,1449.9 L1332.1,1450.3 L1334.1,1450.8 L1336.1,1451.3 L1338.2,1451.7 L1340.2,1452.2 L1342.2,1452.7 L1344.2,1453.2 L1346.2,1453.7 L1348.2,1454.2 L1350.2,1454.6M1375.9,1461.2 L1377.9,1461.8 L1379.9,1462.3 L1381.9,1462.8 L1383.9,1463.4 L1385.9,1463.9 L1387.9,1464.5 L1389.9,1465.0 L1391.9,1465.6 L1393.9,1466.1 L1395.9,1466.7 L1397.9,1467.3 L1399.9,1467.8 L1401.9,1468.4 L1403.9,1469.0M1429.3,1476.7 L1431.3,1477.4 L1433.2,1478.0 L1435.2,1478.7 L1437.2,1479.3 L1439.1,1480.0 L1441.1,1480.6 L1443.1,1481.3 L1445.0,1481.9 L1447.0,1482.6 L1448.9,1483.3 L1450.9,1484.0 L1452.8,1484.7 L1454.8,1485.4 L1456.7,1486.1M1480.9,1495.4 L1482.8,1496.2 L1484.7,1497.0 L1486.6,1497.8 L1488.5,1498.6 L1490.4,1499.4 L1492.3,1500.2 L1494.2,1501.0 L1496.1,1501.9 L1498.0,1502.7 L1499.9,1503.6 L1501.8,1504.4 L1503.7,1505.3 L1505.5,1506.2 L1507.4,1507.1M1529.2,1518.2 L1531.0,1519.2 L1532.8,1520.2 L1534.6,1521.2 L1536.4,1522.2 L1538.2,1523.3 L1540.0,1524.3 L1541.8,1525.4 L1543.6,1526.4 L1545.4,1527.5 L1547.1,1528.6 L1548.9,1529.7 L1550.6,1530.8 L1552.4,1531.9 L1554.1,1533.0M1576.2,1549.1 L1577.9,1550.4 L1579.5,1551.7 L1581.0,1553.0 L1582.6,1554.4 L1584.2,1555.7 L1585.7,1557.1 L1587.3,1558.5 L1588.8,1559.9 L1590.3,1561.3 L1591.8,1562.7 L1593.3,1564.2 L1594.8,1565.6 L1596.2,1567.1 L1597.7,1568.6M1614.7,1588.9 L1615.9,1590.6 L1617.1,1592.2 L1618.3,1594.0 L1619.4,1595.7 L1620.6,1597.4 L1621.7,1599.2 L1622.8,1600.9 L1623.8,1602.7 L1624.9,1604.5 L1625.9,1606.3 L1626.9,1608.1 L1627.9,1609.9 L1628.9,1611.7 L1629.8,1613.6" fill="none" stroke="#231F20" stroke-width="7.5" stroke-linejoin="round"/>
<path d="M1076.5,1472.2 L1078.5,1472.2 L1080.5,1472.2 L1082.5,1472.1 L1084.5,1472.1 L1086.5,1472.1 L1088.5,1472.1 L1090.5,1472.1 L1092.5,1472.1 L1094.5,1472.1 L1096.5,1472.1 L1098.5,1472.1 L1100.5,1472.1 L1102.5,1472.2 L1104.5,1472.2 L1106.5,1472.2 L1108.5,1472.2 L1110.5,1472.3 L1112.5,1472.3 L1114.5,1472.3 L1116.5,1472.4 L1118.5,1472.4 L1120.5,1472.5 L1122.5,1472.5 L1124.5,1472.6 L1126.6,1472.6 L1128.6,1472.7 L1130.6,1472.8 L1132.6,1472.8 L1134.6,1472.9 L1136.6,1473.0 L1138.6,1473.1 L1140.6,1473.2 L1142.6,1473.2 L1144.6,1473.3 L1146.6,1473.4 L1148.6,1473.5 L1150.6,1473.6 L1152.6,1473.7 L1154.6,1473.8 L1156.6,1473.9 L1158.6,1474.0 L1160.6,1474.1 L1162.7,1474.2 L1164.7,1474.4 L1166.7,1474.5 L1168.7,1474.6 L1170.7,1474.7 L1172.7,1474.8 L1174.7,1475.0 L1176.7,1475.1 L1178.7,1475.2 L1180.7,1475.4 L1182.7,1475.5 L1184.7,1475.7 L1186.7,1475.8 L1188.7,1475.9 L1190.7,1476.1 L1192.7,1476.2 L1194.7,1476.4 L1196.8,1476.5 L1198.8,1476.7 L1200.8,1476.9 L1202.8,1477.0 L1204.8,1477.2 L1206.8,1477.3 L1208.8,1477.5 L1210.8,1477.7 L1212.8,1477.9 L1214.8,1478.0 L1216.8,1478.2 L1218.8,1478.4 L1220.8,1478.6 L1222.8,1478.7 L1224.8,1478.9 L1226.8,1479.1 L1228.8,1479.3 L1230.8,1479.5 L1232.8,1479.7 L1234.8,1479.9 L1236.8,1480.0 L1238.8,1480.2 L1240.8,1480.4 L1242.8,1480.6 L1244.8,1480.8 L1246.8,1481.0 L1248.8,1481.2 L1250.8,1481.4 L1252.8,1481.6 L1254.8,1481.8 L1256.8,1482.1 L1258.8,1482.3 L1260.8,1482.5 L1262.8,1482.7 L1264.8,1482.9 L1266.8,1483.1 L1268.8,1483.3 L1270.8,1483.5 L1272.8,1483.8 L1274.8,1484.0 L1276.8,1484.2 L1278.8,1484.4 L1280.7,1484.6 L1282.7,1484.8 L1284.7,1485.1 L1286.7,1485.3 L1288.7,1485.5 L1290.7,1485.7 L1292.7,1486.0 L1294.7,1486.2 L1296.7,1486.4 L1298.7,1486.7 L1300.6,1486.9 L1302.6,1487.1 L1304.6,1487.4 L1306.6,1487.6 L1308.6,1487.8 L1310.6,1488.1 L1312.6,1488.3 L1314.5,1488.5 L1316.5,1488.8 L1318.5,1489.0 L1320.5,1489.3 L1322.5,1489.5 L1324.5,1489.8 L1326.4,1490.0 L1328.4,1490.3 L1330.4,1490.6 L1332.4,1490.8 L1334.4,1491.1 L1336.3,1491.3 L1338.3,1491.6 L1340.3,1491.9 L1342.3,1492.1 L1344.3,1492.4 L1346.2,1492.7 L1348.2,1493.0 L1350.2,1493.3 L1352.2,1493.5 L1354.1,1493.8 L1356.1,1494.1 L1358.1,1494.4 L1360.1,1494.7 L1362.0,1495.0 L1364.0,1495.3 L1366.0,1495.6 L1367.9,1495.9 L1369.9,1496.2 L1371.9,1496.6 L1373.9,1496.9 L1375.8,1497.2 L1377.8,1497.5 L1379.8,1497.9 L1381.7,1498.2 L1383.7,1498.5 L1385.7,1498.9 L1387.6,1499.2 L1389.6,1499.5 L1391.6,1499.9 L1393.5,1500.3 L1395.5,1500.6 L1397.5,1501.0 L1399.4,1501.3 L1401.4,1501.7 L1403.4,1502.1 L1405.3,1502.5 L1407.3,1502.8 L1409.2,1503.2 L1411.2,1503.6 L1413.2,1504.0 L1415.1,1504.4 L1417.1,1504.8 L1419.0,1505.2 L1421.0,1505.6 L1423.0,1506.1 L1424.9,1506.5 L1426.9,1506.9 L1428.8,1507.3 L1430.8,1507.8 L1432.7,1508.2 L1434.7,1508.7 L1436.7,1509.1 L1438.6,1509.6 L1440.6,1510.0 L1442.5,1510.5 L1444.5,1511.0 L1446.4,1511.5 L1448.4,1511.9 L1450.3,1512.4 L1452.3,1512.9 L1454.2,1513.4 L1456.2,1513.9 L1458.1,1514.4 L1460.1,1515.0 L1462.0,1515.5 L1464.0,1516.0 L1465.9,1516.5 L1467.9,1517.1 L1469.8,1517.6 L1471.8,1518.2 L1473.7,1518.7 L1475.7,1519.3 L1477.6,1519.9 L1479.6,1520.4 L1481.5,1521.0 L1483.5,1521.6 L1485.4,1522.2 L1487.3,1522.8 L1489.3,1523.4 L1491.2,1524.0 L1493.1,1524.7 L1495.1,1525.3 L1497.0,1525.9 L1498.9,1526.6 L1500.8,1527.3 L1502.8,1527.9 L1504.7,1528.6 L1506.6,1529.3 L1508.5,1530.0 L1510.4,1530.7 L1512.3,1531.4 L1514.2,1532.1 L1516.1,1532.8 L1518.0,1533.6 L1519.9,1534.3 L1521.7,1535.1 L1523.6,1535.8 L1525.5,1536.6 L1527.3,1537.4 L1529.2,1538.2 L1531.0,1539.0 L1532.9,1539.8 L1534.7,1540.7 L1536.6,1541.5 L1538.4,1542.4 L1540.2,1543.2 L1542.0,1544.1 L1543.8,1545.0 L1545.6,1545.9 L1547.4,1546.8 L1549.2,1547.7 L1550.9,1548.7 L1552.7,1549.6 L1554.5,1550.6 L1556.2,1551.5 L1558.0,1552.5 L1559.7,1553.5 L1561.4,1554.5 L1563.1,1555.6 L1564.8,1556.6 L1566.5,1557.7 L1568.2,1558.7 L1569.9,1559.8 L1571.5,1560.9 L1573.2,1562.0 L1574.8,1563.1 L1576.5,1564.3 L1578.1,1565.4 L1579.7,1566.6 L1581.3,1567.8 L1582.9,1569.0 L1584.5,1570.2 L1586.0,1571.4 L1587.6,1572.7 L1589.1,1573.9 L1590.6,1575.2 L1592.1,1576.5 L1593.6,1577.8 L1595.1,1579.1 L1596.6,1580.4 L1598.0,1581.8 L1599.5,1583.1 L1600.9,1584.5 L1602.3,1585.9 L1603.7,1587.3 L1605.1,1588.7 L1606.4,1590.2 L1607.8,1591.6 L1609.1,1593.1 L1610.4,1594.5 L1611.7,1596.0 L1613.0,1597.5 L1614.2,1599.1 L1615.5,1600.6 L1616.7,1602.2 L1617.9,1603.7 L1619.1,1605.3 L1620.2,1606.9 L1621.4,1608.5 L1622.5,1610.1 L1623.6,1611.8 L1624.7,1613.4 L1625.7,1615.1 L1626.8,1616.8 L1627.8,1618.5 L1628.8,1620.2 L1629.8,1621.9 L1630.7,1623.7 L1631.7,1625.4 L1632.6,1627.2 L1633.5,1629.0 L1634.4,1630.7 L1635.2,1632.5 L1636.1,1634.4 L1636.9,1636.2 L1637.7,1638.0 L1638.5,1639.9 L1639.2,1641.7 L1640.0,1643.6 L1640.7,1645.4 L1641.4,1647.3 L1642.1,1649.2 L1642.8,1651.1 L1643.4,1653.0 L1644.1,1654.9 L1644.7,1656.8 L1645.3,1658.8 L1645.8,1660.7 L1646.4,1662.6 L1646.9,1664.6 L1647.5,1666.5 L1648.0,1668.5 L1648.4,1670.5 L1648.9,1672.4 L1649.4,1674.4 L1649.8,1676.4 L1650.2,1678.4 L1650.6,1680.4 L1651.0,1682.4 L1651.3,1684.4 L1651.7,1686.4 L1652.0,1688.4 L1652.3,1690.4 L1652.6,1692.4 L1652.9,1694.4 L1653.2,1696.4 L1653.4,1698.4 L1653.6,1700.4 L1653.8,1702.4 L1654.0,1704.4 L1654.2,1706.4 L1654.3,1708.5 L1654.5,1710.5 L1654.6,1712.5 L1654.7,1714.5 L1654.8,1716.5 L1654.9,1718.5 L1655.0,1720.5 L1655.0,1722.5" fill="none" stroke="#231F20" stroke-width="7.5" stroke-linejoin="round"/><path d="M1655,1722.5H1683.5" stroke="#231F20" stroke-width="7.5"/>
<path d="M1076.5,1722.3 L1078.5,1722.3 L1080.5,1722.3 L1082.5,1722.3 L1084.5,1722.3 L1086.6,1722.3 L1088.6,1722.3 L1090.6,1722.3 L1092.6,1722.3 L1094.6,1722.3 L1096.6,1722.4 L1098.6,1722.4 L1100.6,1722.4 L1102.6,1722.4 L1104.7,1722.4 L1106.7,1722.4 L1108.7,1722.4 L1110.7,1722.4 L1112.7,1722.4 L1114.7,1722.4 L1116.7,1722.4 L1118.7,1722.4 L1120.7,1722.4 L1122.7,1722.4 L1124.7,1722.4 L1126.7,1722.4 L1128.8,1722.4 L1130.8,1722.4 L1132.8,1722.4 L1134.8,1722.4 L1136.8,1722.4 L1138.8,1722.4 L1140.8,1722.4 L1142.8,1722.4 L1144.8,1722.4 L1146.8,1722.4 L1148.8,1722.4 L1150.8,1722.4 L1152.8,1722.4 L1154.8,1722.4 L1156.8,1722.4 L1158.8,1722.4 L1160.8,1722.4 L1162.8,1722.4 L1164.8,1722.4 L1166.9,1722.4 L1168.9,1722.4 L1170.9,1722.4 L1172.9,1722.4 L1174.9,1722.4 L1176.9,1722.4 L1178.9,1722.4 L1180.9,1722.4 L1182.9,1722.4 L1184.9,1722.3 L1186.9,1722.3 L1188.9,1722.3 L1190.9,1722.3 L1192.9,1722.3 L1194.9,1722.3 L1196.9,1722.3 L1198.9,1722.3 L1200.9,1722.3 L1202.9,1722.3 L1204.9,1722.3 L1206.9,1722.3 L1208.9,1722.3 L1210.9,1722.3 L1212.9,1722.3 L1214.9,1722.3 L1216.9,1722.3 L1218.9,1722.2 L1220.9,1722.2 L1222.9,1722.2 L1224.9,1722.2 L1226.9,1722.2 L1228.9,1722.2 L1230.9,1722.2 L1232.9,1722.2 L1234.9,1722.2 L1237.0,1722.2 L1239.0,1722.2 L1241.0,1722.2 L1243.0,1722.2 L1245.0,1722.1 L1247.0,1722.1 L1249.0,1722.1 L1251.0,1722.1 L1253.0,1722.1 L1255.0,1722.1 L1257.0,1722.1 L1259.0,1722.1 L1261.0,1722.1 L1263.0,1722.1 L1265.0,1722.0 L1267.0,1722.0 L1269.0,1722.0 L1271.0,1722.0 L1273.0,1722.0 L1275.0,1722.0 L1277.0,1722.0 L1279.0,1722.0 L1281.0,1722.0 L1283.0,1721.9 L1285.0,1721.9 L1287.0,1721.9 L1289.0,1721.9 L1291.0,1721.9 L1293.0,1721.9 L1295.0,1721.9 L1297.0,1721.9 L1299.0,1721.8 L1301.0,1721.8 L1303.1,1721.8 L1305.1,1721.8 L1307.1,1721.8 L1309.1,1721.8 L1311.1,1721.8 L1313.1,1721.7 L1315.1,1721.7 L1317.1,1721.7 L1319.1,1721.7 L1321.1,1721.7 L1323.1,1721.7 L1325.1,1721.7 L1327.1,1721.7 L1329.1,1721.6 L1331.1,1721.6 L1333.1,1721.6 L1335.1,1721.6 L1337.1,1721.6 L1339.2,1721.6 L1341.2,1721.5 L1343.2,1721.5 L1345.2,1721.5 L1347.2,1721.5 L1349.2,1721.5 L1351.2,1721.5 L1353.2,1721.5 L1355.2,1721.4 L1357.2,1721.4 L1359.2,1721.4 L1361.2,1721.4 L1363.3,1721.4 L1365.3,1721.4 L1367.3,1721.3 L1369.3,1721.3 L1371.3,1721.3 L1373.3,1721.3 L1375.3,1721.3 L1377.3,1721.3 L1379.3,1721.2 L1381.4,1721.2 L1383.4,1721.2 L1385.4,1721.2 L1387.4,1721.2 L1389.4,1721.2 L1391.4,1721.1 L1393.4,1721.1 L1395.4,1721.1 L1397.5,1721.1 L1399.5,1721.1 L1401.5,1721.1 L1403.5,1721.0 L1405.5,1721.0 L1407.5,1721.0 L1409.5,1721.0 L1411.6,1720.9 L1413.6,1720.9 L1415.6,1720.9 L1417.6,1720.8 L1419.6,1720.8 L1421.6,1720.8 L1423.6,1720.7 L1425.7,1720.7 L1427.7,1720.6 L1429.7,1720.6 L1431.7,1720.5 L1433.7,1720.5 L1435.7,1720.4 L1437.7,1720.4 L1439.7,1720.3 L1441.8,1720.2 L1443.8,1720.1 L1445.8,1720.1 L1447.8,1720.0 L1449.8,1719.9 L1451.8,1719.8 L1453.8,1719.7 L1455.8,1719.6 L1457.8,1719.5 L1459.8,1719.3 L1461.8,1719.2 L1463.8,1719.1 L1465.8,1718.9 L1467.8,1718.8 L1469.8,1718.6 L1471.8,1718.5 L1473.8,1718.3 L1475.8,1718.1 L1477.8,1718.0 L1479.8,1717.8 L1481.8,1717.6 L1483.8,1717.4 L1485.8,1717.2 L1487.8,1716.9 L1489.8,1716.7 L1491.8,1716.5 L1493.8,1716.2 L1495.8,1716.0 L1497.7,1715.7 L1499.7,1715.4 L1501.7,1715.1 L1503.7,1714.8 L1505.7,1714.5 L1507.7,1714.2 L1509.6,1713.9 L1511.6,1713.6 L1513.6,1713.2 L1515.5,1712.8 L1517.5,1712.5 L1519.5,1712.1 L1521.4,1711.7 L1523.4,1711.3 L1525.4,1710.9 L1527.3,1710.4 L1529.2,1709.9 L1531.1,1709.4 L1533.0,1708.8 L1534.9,1708.3 L1536.7,1707.6 L1538.5,1707.0 L1540.3,1706.3 L1542.0,1705.5 L1543.7,1704.7 L1545.4,1703.8 L1547.0,1702.9 L1548.6,1701.9 L1550.1,1700.8 L1551.6,1699.7 L1553.0,1698.5 L1554.4,1697.3 L1555.8,1695.9 L1557.0,1694.5 L1558.3,1693.1 L1559.4,1691.6 L1560.6,1690.0 L1561.7,1688.4 L1562.7,1686.8 L1563.7,1685.1 L1564.7,1683.4 L1565.6,1681.6 L1566.5,1679.9 L1567.3,1678.1 L1568.2,1676.3 L1568.9,1674.4 L1569.7,1672.5 L1570.4,1670.7 L1571.1,1668.7 L1571.7,1666.8 L1572.3,1664.9 L1572.9,1662.9 L1573.5,1661.0 L1574.0,1659.0 L1574.6,1657.0 L1575.1,1655.0 L1575.6,1652.9 L1576.0,1650.9 L1576.5,1648.9 L1576.9,1646.9 L1577.4,1644.8 L1577.8,1642.8 L1578.2,1640.7 L1578.6,1638.7 L1578.9,1636.7 L1579.3,1634.6 L1579.7,1632.6 L1580.1,1630.5 L1580.4,1628.5 L1580.8,1626.5 L1581.1,1624.5 L1581.5,1622.4 L1581.8,1620.4 L1582.2,1618.4 L1582.5,1616.4 L1582.8,1614.4 L1583.1,1612.3 L1583.4,1610.3 L1583.7,1608.3 L1584.0,1606.3 L1584.3,1604.3 L1584.6,1602.3 L1584.9,1600.3 L1585.2,1598.3 L1585.5,1596.3 L1585.7,1594.3 L1586.0,1592.3 L1586.3,1590.3 L1586.5,1588.3 L1586.8,1586.3 L1587.0,1584.3 L1587.3,1582.4 L1587.5,1580.4 L1587.7,1578.4 L1588.0,1576.4 L1588.2,1574.4 L1588.4,1572.4 L1588.6,1570.4 L1588.8,1568.5 L1589.0,1566.5 L1589.2,1564.5 L1589.4,1562.5 L1589.6,1560.5 L1589.8,1558.6 L1590.0,1556.6 L1590.2,1554.6 L1590.4,1552.6 L1590.6,1550.6 L1590.7,1548.7 L1590.9,1546.7 L1591.1,1544.7 L1591.2,1542.7 L1591.4,1540.8 L1591.6,1538.8 L1591.7,1536.8 L1591.9,1534.8 L1592.0,1532.8 L1592.2,1530.9 L1592.3,1528.9 L1592.4,1526.9 L1592.6,1524.9 L1592.7,1522.9 L1592.9,1521.0 L1593.0,1519.0 L1593.1,1517.0 L1593.2,1515.0 L1593.4,1513.0 L1593.5,1511.1 L1593.6,1509.1 L1593.7,1507.1 L1593.8,1505.1 L1593.9,1503.1 L1594.1,1501.1 L1594.2,1499.1 L1594.3,1497.2 L1594.4,1495.2 L1594.5,1493.2 L1594.6,1491.2 L1594.7,1489.2 L1594.8,1487.2 L1594.9,1485.2 L1595.0,1483.2 L1595.1,1481.2 L1595.2,1479.2 L1595.3,1477.2 L1595.3,1475.2 L1595.4,1473.2 L1595.5,1471.2 L1595.6,1469.2 L1595.7,1467.2 L1595.8,1465.2 L1595.8,1463.2 L1595.9,1461.2 L1596.0,1459.2 L1596.1,1457.2 L1596.2,1455.1 L1596.2,1453.1 L1596.3,1451.1 L1596.4,1449.1 L1596.5,1447.1 L1596.5,1445.1 L1596.6,1443.1 L1596.7,1441.1 L1596.7,1439.1 L1596.8,1437.1 L1596.9,1435.0 L1596.9,1433.0 L1597.0,1431.0 L1597.1,1429.0 L1597.1,1427.0 L1597.2,1425.0 L1597.2,1423.0 L1597.3,1420.9 L1597.4,1418.9 L1597.4,1416.9 L1597.5,1414.9 L1597.5,1412.9 L1597.6,1410.9 L1597.7,1408.9 L1597.7,1406.8 L1597.8,1404.8 L1597.8,1402.8 L1597.9,1400.8 L1598.0,1398.8 L1598.0,1396.8 L1598.1,1394.8 L1598.1,1392.7 L1598.2,1390.7 L1598.2,1388.7 L1598.3,1386.7 L1598.3,1384.7 L1598.4,1382.7 L1598.4,1380.7 L1598.5,1378.6 L1598.6,1376.6 L1598.6,1374.6 L1598.7,1372.6 L1598.7,1370.6 L1598.8,1368.6 L1598.8,1366.6 L1598.9,1364.6 L1598.9,1362.6 L1599.0,1360.5 L1599.1,1358.5 L1599.1,1356.5 L1599.2,1354.5 L1599.2,1352.5 L1599.3,1350.5 L1599.3,1348.5 L1599.4,1346.5 L1599.4,1344.5 L1599.5,1342.5 L1599.6,1340.5 L1599.6,1338.5 L1599.7,1336.4 L1599.7,1334.4 L1599.8,1332.4 L1599.8,1330.4 L1599.9,1328.4 L1600.0,1326.4 L1600.0,1324.4 L1600.1,1322.4 L1600.1,1320.4 L1600.2,1318.4 L1600.2,1316.4 L1600.3,1314.4 L1600.3,1312.4 L1600.4,1310.4 L1600.5,1308.4 L1600.5,1306.4 L1600.6,1304.4 L1600.6,1302.4 L1600.7,1300.4 L1600.7,1298.4 L1600.8,1296.4 L1600.9,1294.4 L1600.9,1292.4 L1601.0,1290.4 L1601.0,1288.4 L1601.1,1286.4 L1601.1,1284.4 L1601.2,1282.4 L1601.3,1280.4 L1601.3,1278.4 L1601.4,1276.4 L1601.4,1274.3 L1601.5,1272.3 L1601.5,1270.3 L1601.6,1268.3 L1601.6,1266.3 L1601.7,1264.3 L1601.8,1262.3 L1601.8,1260.3 L1601.9,1258.3 L1601.9,1256.3 L1602.0,1254.3 L1602.0,1252.3 L1602.1,1250.3 L1602.2,1248.3 L1602.2,1246.3 L1602.3,1244.3 L1602.3,1242.3 L1602.4,1240.3 L1602.4,1238.3 L1602.5,1236.3 L1602.5,1234.3 L1602.6,1232.3 L1602.7,1230.3 L1602.7,1228.3 L1602.8,1226.3 L1602.8,1224.3 L1602.9,1222.3 L1602.9,1220.3 L1603.0,1218.3 L1603.0,1216.3 L1603.1,1214.3 L1603.2,1212.3 L1603.2,1210.3 L1603.3,1208.3 L1603.3,1206.3 L1603.4,1204.3 L1603.4,1202.3 L1603.5,1200.3 L1603.5,1198.3 L1603.6,1196.3 L1603.6,1194.3 L1603.7,1192.3 L1603.8,1190.3 L1603.8,1188.3 L1603.9,1186.3 L1603.9,1184.3 L1604.0,1182.3 L1604.0,1180.3 L1604.1,1178.3 L1604.1,1176.3 L1604.2,1174.3 L1604.2,1172.3 L1604.3,1170.3 L1604.3,1168.3 L1604.4,1166.3 L1604.4,1164.2 L1604.5,1162.2 L1604.5,1160.2 L1604.6,1158.2 L1604.6,1156.2 L1604.7,1154.2 L1604.8,1152.2 L1604.8,1150.2 L1604.9,1148.2 L1604.9,1146.2 L1605.0,1144.2 L1605.0,1142.2 L1605.1,1140.2 L1605.1,1138.2 L1605.2,1136.1 L1605.2,1134.1 L1605.3,1132.1 L1605.3,1130.1 L1605.4,1128.1 L1605.4,1126.1 L1605.5,1124.1 L1605.5,1122.1 L1605.6,1120.1 L1605.6,1118.1 L1605.7,1116.0 L1605.7,1114.0 L1605.8,1112.0 L1605.8,1110.0" fill="none" stroke="#0072BC" stroke-width="8.3" stroke-linejoin="round"/>
</g>
<path d="M1344.0,1506.7H1258.0" stroke="#231F20" stroke-width="8.0" fill="none"/><path d="M1234.0,1506.7L1263.6,1494.4L1258.0,1506.7L1263.6,1519.0Z" fill="#231F20"/>
<path d="M1463.3,1595.8H1546.5" stroke="#0072BC" stroke-width="8.3" fill="none"/><path d="M1571.9,1595.8L1541.4,1583.5L1546.5,1595.8L1541.4,1608.1Z" fill="#0072BC"/>
<text id="t_lin" x="816.75" y="85.35" font-size="86.96" textLength="230.96" lengthAdjust="spacingAndGlyphs" fill="#231F20">Linear</text>
<text id="t_two" x="700.80" y="1035.90" font-size="88.19" textLength="461.64" lengthAdjust="spacingAndGlyphs" fill="#231F20">Two-Photon</text>
<text id="p_a" x="14.95" y="193.80" font-size="82.17" textLength="104.10" lengthAdjust="spacingAndGlyphs" fill="#231F20">(a)</text>
<text id="p_b" x="15.75" y="1130.00" font-size="82.11" textLength="103.80" lengthAdjust="spacingAndGlyphs" fill="#231F20">(b)</text>
<text id="p_c" x="865.80" y="193.40" font-size="81.73" textLength="98.57" lengthAdjust="spacingAndGlyphs" fill="#231F20">(c)</text>
<text id="p_d" x="865.80" y="1131.90" font-size="82.18" textLength="104.14" lengthAdjust="spacingAndGlyphs" fill="#231F20">(d)</text>
<text id="a_y10" x="124.30" y="179.30" font-size="49.87" textLength="63.35" lengthAdjust="spacingAndGlyphs" fill="#231F20">1.0</text>
<text id="a_y08" x="122.70" y="315.90" font-size="49.59" textLength="65.74" lengthAdjust="spacingAndGlyphs" fill="#231F20">0.8</text>
<text id="a_y06" x="122.70" y="436.10" font-size="49.59" textLength="65.74" lengthAdjust="spacingAndGlyphs" fill="#231F20">0.6</text>
<text id="a_y04" x="123.20" y="557.50" font-size="49.59" textLength="64.61" lengthAdjust="spacingAndGlyphs" fill="#231F20">0.4</text>
<text id="a_y02" x="122.70" y="678.90" font-size="49.59" textLength="65.74" lengthAdjust="spacingAndGlyphs" fill="#231F20">0.2</text>
<text id="a_y00" x="153.50" y="801.30" font-size="49.87" textLength="26.50" lengthAdjust="spacingAndGlyphs" fill="#231F20">0</text>
<text id="a_x0" x="179.50" y="836.10" font-size="47.13" textLength="26.27" lengthAdjust="spacingAndGlyphs" fill="#231F20">0</text>
<text id="a_x2" x="330.60" y="836.10" font-size="47.13" textLength="63.15" lengthAdjust="spacingAndGlyphs" fill="#231F20">0.2</text>
<text id="a_x4" x="491.90" y="836.10" font-size="47.13" textLength="66.04" lengthAdjust="spacingAndGlyphs" fill="#231F20">0.4</text>
<text id="a_x6" x="653.50" y="836.10" font-size="47.13" textLength="65.80" lengthAdjust="spacingAndGlyphs" fill="#231F20">0.6</text>
<text id="a_xl" x="315.50" y="909.20" font-size="71.15" textLength="254.86" lengthAdjust="spacingAndGlyphs" fill="#231F20">Position</text>
<text id="a_xl2" x="582.85" y="903.85" font-size="65.01" textLength="81.80" lengthAdjust="spacingAndGlyphs" fill="#231F20">(λ)</text>
<text id="a_yl" transform="translate(97.55,715.40) rotate(-90)" x="0" y="0" font-size="73.48" textLength="180.95" lengthAdjust="spacingAndGlyphs" fill="#231F20">Signal</text>
<text id="a_yl2" transform="translate(93.40,516.90) rotate(-90)" x="0" y="0" font-size="64.48" textLength="225.35" lengthAdjust="spacingAndGlyphs" fill="#231F20">(norm.)</text>
<text id="a_l1" x="521.20" y="250.40" font-size="41.43" textLength="103.05" lengthAdjust="spacingAndGlyphs" fill="#231F20">Blank</text>
<text id="a_l2" x="523.40" y="298.30" font-size="42.25" textLength="93.59" lengthAdjust="spacingAndGlyphs" fill="#231F20">0.55r</text>
<text id="a_l2m" x="618.75" y="305.05" font-size="29.78" textLength="25.52" lengthAdjust="spacingAndGlyphs" fill="#231F20">M</text>
<text id="a_l3" x="523.40" y="346.50" font-size="43.00" textLength="93.59" lengthAdjust="spacingAndGlyphs" fill="#231F20">0.55r</text>
<text id="a_l3m" x="618.40" y="353.30" font-size="29.95" textLength="25.89" lengthAdjust="spacingAndGlyphs" fill="#231F20">M</text>
<text id="a_l3c" x="641.45" y="345.90" font-size="51.11" fill="#231F20">,</text>
<text id="a_l3b" x="660.30" y="346.00" font-size="43.00" textLength="113.09" lengthAdjust="spacingAndGlyphs" fill="#231F20">0.5AU</text>
<text id="b_y10" x="133.35" y="1121.30" font-size="49.87" textLength="63.78" lengthAdjust="spacingAndGlyphs" fill="#231F20">1.0</text>
<text id="b_y08" x="132.40" y="1256.80" font-size="49.59" textLength="65.04" lengthAdjust="spacingAndGlyphs" fill="#231F20">0.8</text>
<text id="b_y06" x="132.40" y="1377.90" font-size="49.59" textLength="65.04" lengthAdjust="spacingAndGlyphs" fill="#231F20">0.6</text>
<text id="b_y04" x="131.55" y="1500.90" font-size="49.87" textLength="64.84" lengthAdjust="spacingAndGlyphs" fill="#231F20">0.4</text>
<text id="b_y02" x="132.40" y="1620.90" font-size="49.59" textLength="65.04" lengthAdjust="spacingAndGlyphs" fill="#231F20">0.2</text>
<text id="b_y00" x="169.50" y="1742.30" font-size="49.87" textLength="26.68" lengthAdjust="spacingAndGlyphs" fill="#231F20">0</text>
<text id="b_x0" x="195.20" y="1777.40" font-size="47.36" textLength="27.31" lengthAdjust="spacingAndGlyphs" fill="#231F20">0</text>
<text id="b_x2" x="345.90" y="1777.40" font-size="47.36" textLength="64.32" lengthAdjust="spacingAndGlyphs" fill="#231F20">0.2</text>
<text id="b_x4" x="507.60" y="1777.40" font-size="47.36" textLength="65.70" lengthAdjust="spacingAndGlyphs" fill="#231F20">0.4</text>
<text id="b_x6" x="669.30" y="1777.40" font-size="47.36" textLength="66.33" lengthAdjust="spacingAndGlyphs" fill="#231F20">0.6</text>
<text id="b_xl" x="331.80" y="1850.20" font-size="71.71" textLength="254.92" lengthAdjust="spacingAndGlyphs" fill="#231F20">Position</text>
<text id="b_xl2" x="596.60" y="1845.05" font-size="65.01" textLength="84.35" lengthAdjust="spacingAndGlyphs" fill="#231F20">(λ)</text>
<text id="b_yl" transform="translate(97.55,1634.00) rotate(-90)" x="0" y="0" font-size="73.02" textLength="192.36" lengthAdjust="spacingAndGlyphs" fill="#231F20">Signal</text>
<text id="b_yl2" transform="translate(93.20,1423.10) rotate(-90)" x="0" y="0" font-size="65.89" textLength="226.40" lengthAdjust="spacingAndGlyphs" fill="#231F20">(norm.)</text>
<text id="b_l1" x="537.70" y="1187.25" font-size="42.37" textLength="102.36" lengthAdjust="spacingAndGlyphs" fill="#231F20">Blank</text>
<text id="b_l2" x="539.65" y="1234.90" font-size="42.83" textLength="92.49" lengthAdjust="spacingAndGlyphs" fill="#231F20">0.55r</text>
<text id="b_l2m" x="634.20" y="1243.40" font-size="28.75" textLength="26.31" lengthAdjust="spacingAndGlyphs" fill="#231F20">M</text>
<text id="b_l3" x="539.45" y="1282.90" font-size="41.67" textLength="92.89" lengthAdjust="spacingAndGlyphs" fill="#231F20">0.55r</text>
<text id="b_l3m" x="634.00" y="1290.50" font-size="29.31" textLength="26.31" lengthAdjust="spacingAndGlyphs" fill="#231F20">M</text>
<text id="b_l3c" x="658.00" y="1283.00" font-size="59.81" fill="#231F20">,</text>
<text id="b_l3b" x="676.30" y="1282.80" font-size="42.25" textLength="112.73" lengthAdjust="spacingAndGlyphs" fill="#231F20">0.5AU</text>
<text id="c_yl5" x="990.80" y="194.00" font-size="49.49" textLength="63.82" lengthAdjust="spacingAndGlyphs" fill="#231F20">0.5</text>
<text id="c_yl4" x="991.40" y="315.00" font-size="49.49" textLength="64.72" lengthAdjust="spacingAndGlyphs" fill="#231F20">0.4</text>
<text id="c_yl3" x="991.60" y="436.50" font-size="49.49" textLength="64.30" lengthAdjust="spacingAndGlyphs" fill="#231F20">0.3</text>
<text id="c_yl2" x="991.50" y="558.00" font-size="49.49" textLength="64.44" lengthAdjust="spacingAndGlyphs" fill="#231F20">0.2</text>
<text id="c_yl1" x="991.10" y="679.50" font-size="49.49" textLength="65.33" lengthAdjust="spacingAndGlyphs" fill="#231F20">0.1</text>
<text id="c_yl0" x="1026.20" y="785.50" font-size="49.49" textLength="27.07" lengthAdjust="spacingAndGlyphs" fill="#231F20">0</text>
<text id="c_yr10" x="1694.10" y="194.10" font-size="49.49" textLength="63.33" lengthAdjust="spacingAndGlyphs" fill="#231F20">1.0</text>
<text id="c_yr8" x="1693.60" y="314.90" font-size="49.49" textLength="64.91" lengthAdjust="spacingAndGlyphs" fill="#231F20">0.8</text>
<text id="c_yr6" x="1693.60" y="436.70" font-size="49.49" textLength="64.91" lengthAdjust="spacingAndGlyphs" fill="#231F20">0.6</text>
<text id="c_yr4" x="1693.20" y="558.00" font-size="49.49" textLength="64.28" lengthAdjust="spacingAndGlyphs" fill="#231F20">0.4</text>
<text id="c_yr2" x="1693.60" y="678.90" font-size="49.49" textLength="65.02" lengthAdjust="spacingAndGlyphs" fill="#231F20">0.2</text>
<text id="c_yr0" x="1693.10" y="800.50" font-size="49.49" textLength="26.79" lengthAdjust="spacingAndGlyphs" fill="#231F20">0</text>
<text id="c_x0" x="1067.20" y="828.50" font-size="49.49" textLength="26.79" lengthAdjust="spacingAndGlyphs" fill="#231F20">0</text>
<text id="c_x2" x="1203.70" y="828.50" font-size="49.49" textLength="64.84" lengthAdjust="spacingAndGlyphs" fill="#231F20">0.2</text>
<text id="c_x4" x="1367.00" y="828.50" font-size="49.49" textLength="64.77" lengthAdjust="spacingAndGlyphs" fill="#231F20">0.4</text>
<text id="c_x6" x="1527.20" y="828.50" font-size="49.49" textLength="67.32" lengthAdjust="spacingAndGlyphs" fill="#231F20">0.6</text>
<text id="c_xl" x="1337.70" y="901.90" font-size="73.94" textLength="76.13" lengthAdjust="spacingAndGlyphs" fill="#231F20">r/r</text>
<text id="c_xlm" x="1410.00" y="922.70" font-size="51.69" textLength="43.71" lengthAdjust="spacingAndGlyphs" fill="#231F20">M</text>
<text id="c_yl" transform="translate(931.20,609.90) rotate(-90)" x="0" y="0" font-size="74.13" textLength="216.64" lengthAdjust="spacingAndGlyphs" fill="#231F20">FWHM</text>
<text id="c_ylb" transform="translate(926.50,392.80) rotate(-90)" x="0" y="0" font-size="64.15" textLength="87.18" lengthAdjust="spacingAndGlyphs" fill="#231F20">(λ)</text>
<text id="c_r1" transform="translate(1823.95,602.35) rotate(-90)" x="0" y="0" font-size="58.46" fill="#231F20">I</text>
<text id="c_r2" transform="translate(1853.95,585.95) rotate(-90)" x="0" y="0" font-size="45.13" textLength="100.72" lengthAdjust="spacingAndGlyphs" fill="#231F20">Lobe</text>
<text id="c_r3" transform="translate(1826.40,476.85) rotate(-90)" x="0" y="0" font-size="59.71" fill="#231F20">/</text>
<text id="c_r4" transform="translate(1824.35,458.40) rotate(-90)" x="0" y="0" font-size="59.00" fill="#231F20">I</text>
<text id="c_r5" transform="translate(1853.40,445.90) rotate(-90)" x="0" y="0" font-size="46.85" textLength="134.60" lengthAdjust="spacingAndGlyphs" fill="#231F20">Center</text>
<text id="d_yl5" x="991.00" y="1136.50" font-size="49.49" textLength="63.80" lengthAdjust="spacingAndGlyphs" fill="#231F20">0.5</text>
<text id="d_yl4" x="991.40" y="1258.00" font-size="49.49" textLength="64.72" lengthAdjust="spacingAndGlyphs" fill="#231F20">0.4</text>
<text id="d_yl3" x="991.30" y="1379.90" font-size="49.49" textLength="64.94" lengthAdjust="spacingAndGlyphs" fill="#231F20">0.3</text>
<text id="d_yl2" x="991.50" y="1501.80" font-size="49.49" textLength="64.44" lengthAdjust="spacingAndGlyphs" fill="#231F20">0.2</text>
<text id="d_yl1" x="991.20" y="1622.70" font-size="49.49" textLength="65.12" lengthAdjust="spacingAndGlyphs" fill="#231F20">0.1</text>
<text id="d_yl0" x="1025.70" y="1737.10" font-size="49.49" textLength="27.10" lengthAdjust="spacingAndGlyphs" fill="#231F20">0</text>
<text id="d_yr10" x="1695.40" y="1137.60" font-size="49.49" textLength="16.66" lengthAdjust="spacingAndGlyphs" fill="#231F20">1</text>
<text id="d_yr8" x="1693.50" y="1258.10" font-size="49.49" textLength="64.48" lengthAdjust="spacingAndGlyphs" fill="#231F20">0.8</text>
<text id="d_yr6" x="1693.50" y="1379.70" font-size="49.49" textLength="64.48" lengthAdjust="spacingAndGlyphs" fill="#231F20">0.6</text>
<text id="d_yr4" x="1693.20" y="1501.00" font-size="49.49" textLength="64.28" lengthAdjust="spacingAndGlyphs" fill="#231F20">0.4</text>
<text id="d_yr2" x="1693.50" y="1622.70" font-size="49.49" textLength="64.59" lengthAdjust="spacingAndGlyphs" fill="#231F20">0.2</text>
<text id="d_yr0" x="1693.35" y="1743.90" font-size="49.49" textLength="26.80" lengthAdjust="spacingAndGlyphs" fill="#231F20">0</text>
<text id="d_x0" x="1068.65" y="1779.40" font-size="48.51" textLength="25.49" lengthAdjust="spacingAndGlyphs" fill="#231F20">0</text>
<text id="d_x2" x="1203.25" y="1779.40" font-size="48.51" textLength="65.77" lengthAdjust="spacingAndGlyphs" fill="#231F20">0.2</text>
<text id="d_x4" x="1365.30" y="1779.40" font-size="48.51" textLength="65.62" lengthAdjust="spacingAndGlyphs" fill="#231F20">0.4</text>
<text id="d_x6" x="1527.60" y="1779.40" font-size="48.51" textLength="66.75" lengthAdjust="spacingAndGlyphs" fill="#231F20">0.6</text>
<text id="d_xl" x="1336.80" y="1853.30" font-size="74.36" textLength="76.71" lengthAdjust="spacingAndGlyphs" fill="#231F20">r/r</text>
<text id="d_xlm" x="1408.95" y="1872.45" font-size="47.12" textLength="45.32" lengthAdjust="spacingAndGlyphs" fill="#231F20">M</text>
<text id="d_yl" transform="translate(930.50,1591.00) rotate(-90)" x="0" y="0" font-size="73.95" textLength="215.22" lengthAdjust="spacingAndGlyphs" fill="#231F20">FWHM</text>
<text id="d_ylb" transform="translate(926.50,1374.60) rotate(-90)" x="0" y="0" font-size="64.15" textLength="87.94" lengthAdjust="spacingAndGlyphs" fill="#231F20">(λ)</text>
<text id="d_r1" transform="translate(1830.95,1544.80) rotate(-90)" x="0" y="0" font-size="58.46" fill="#231F20">I</text>
<text id="d_r2" transform="translate(1860.05,1529.00) rotate(-90)" x="0" y="0" font-size="45.10" textLength="100.02" lengthAdjust="spacingAndGlyphs" fill="#231F20">Lobe</text>
<text id="d_r3" transform="translate(1833.45,1420.05) rotate(-90)" x="0" y="0" font-size="60.10" fill="#231F20">/</text>
<text id="d_r4" transform="translate(1830.95,1402.45) rotate(-90)" x="0" y="0" font-size="58.46" fill="#231F20">I</text>
<text id="d_r5" transform="translate(1861.20,1388.80) rotate(-90)" x="0" y="0" font-size="46.29" textLength="133.93" lengthAdjust="spacingAndGlyphs" fill="#231F20">Center</text>
</svg></body></html>
